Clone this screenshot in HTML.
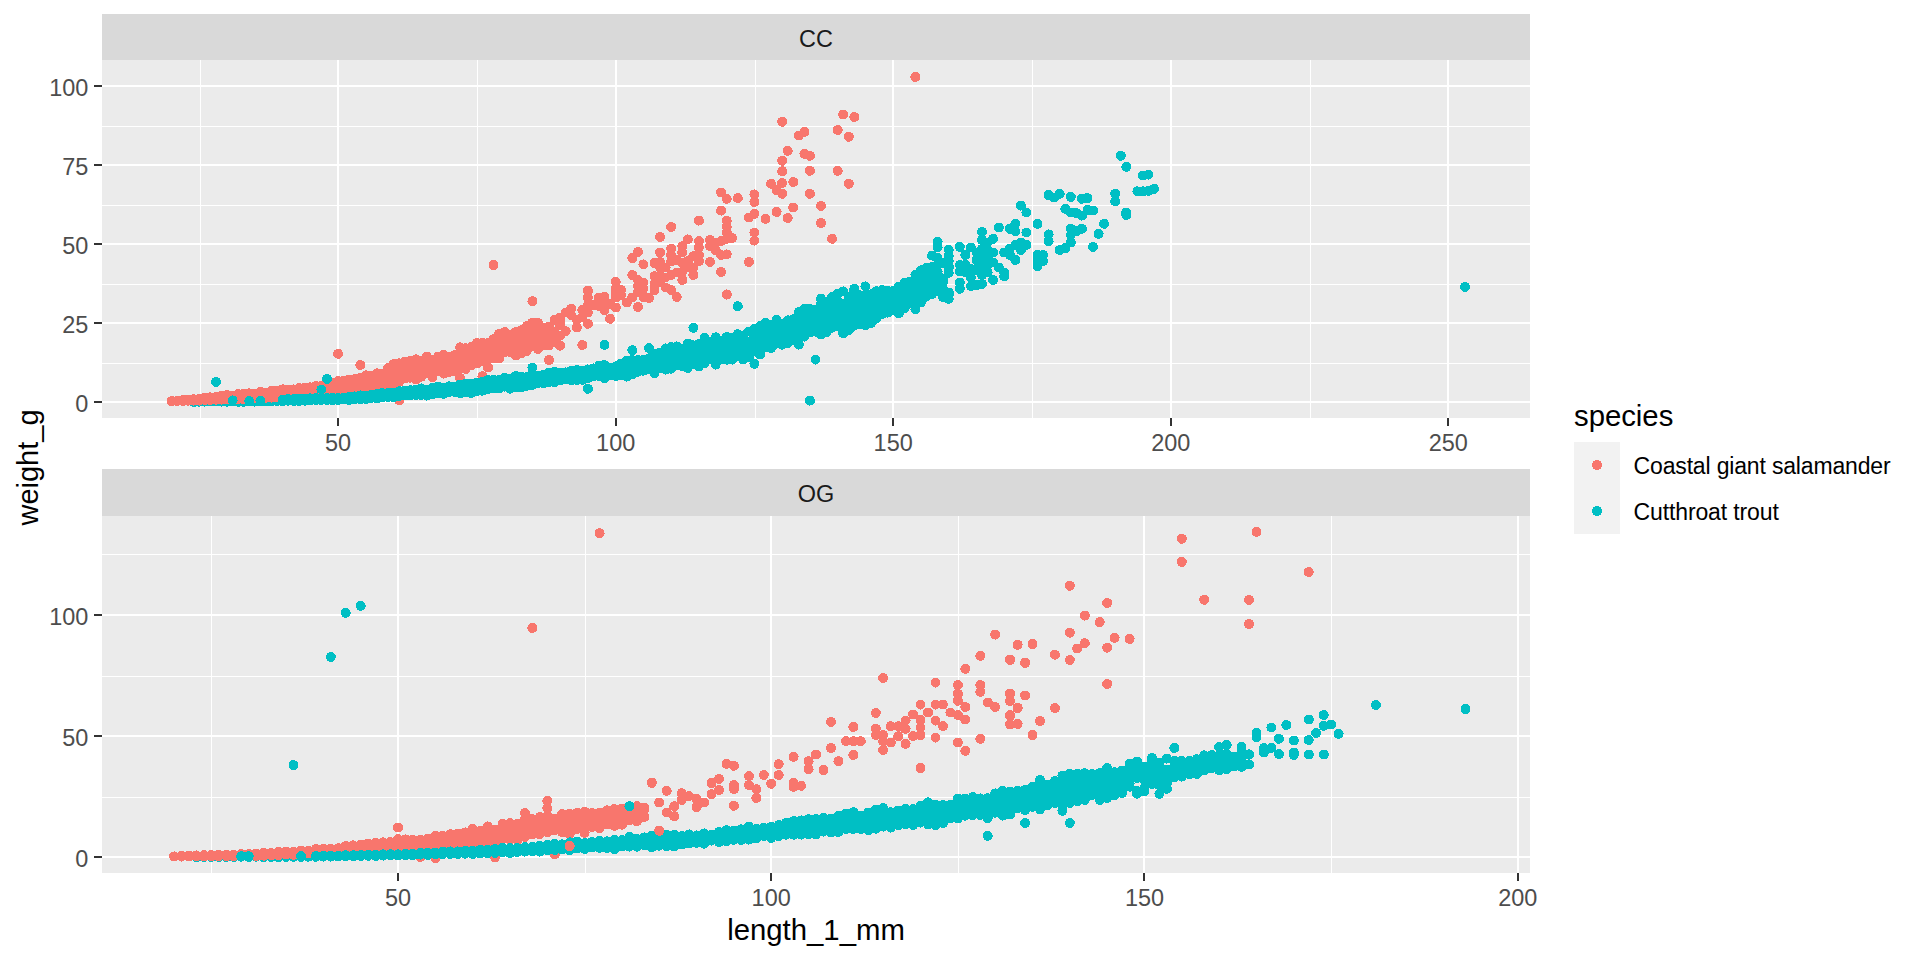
<!DOCTYPE html><html><head><meta charset="utf-8"><title>plot</title><style>
html,body{margin:0;padding:0;background:#fff}svg{display:block}text{font-family:"Liberation Sans",Arial,sans-serif}
.ax{font-size:23.47px;fill:#4D4D4D}.st{font-size:23.47px;fill:#1A1A1A}.ti{font-size:29.33px;fill:#000}.lg{font-size:23px;fill:#000}
.mj{stroke:#fff;stroke-width:2;fill:none}.mn{stroke:#fff;stroke-width:1;fill:none}.tk{stroke:#333;stroke-width:2;fill:none}
.s{stroke:#F8766D}.t{stroke:#00BFC4}.p{fill:none;stroke-width:10;stroke-linecap:round;stroke-linejoin:round}
</style></head><body>
<svg width="1920" height="960" viewBox="0 0 1920 960" shape-rendering="crispEdges">
<rect width="1920" height="960" fill="#fff"/>
<rect x="102" y="14" width="1428" height="46" fill="#D9D9D9"/>
<rect x="102" y="60" width="1428" height="358" fill="#EBEBEB"/>
<clipPath id="c1"><rect x="102" y="60" width="1428" height="358"/></clipPath>
<path class="mn" d="M200.5 60V418M477.5 60V418M755.5 60V418M1032.5 60V418M1310.5 60V418M102 363.5H1530M102 284.5H1530M102 205.5H1530M102 126.5H1530"/>
<path class="mj" d="M338 60V418M616 60V418M893 60V418M1171 60V418M1448 60V418M102 402H1530M102 323H1530M102 244H1530M102 165H1530M102 86H1530"/>
<path class="tk" d="M338 418v8M616 418v8M893 418v8M1171 418v8M1448 418v8M102 402h-8M102 323h-8M102 244h-8M102 165h-8M102 86h-8"/>
<text class="ax" text-anchor="middle" x="338.1" y="450.6">50</text>
<text class="ax" text-anchor="middle" x="615.7" y="450.6">100</text>
<text class="ax" text-anchor="middle" x="893.2" y="450.6">150</text>
<text class="ax" text-anchor="middle" x="1170.8" y="450.6">200</text>
<text class="ax" text-anchor="middle" x="1448.3" y="450.6">250</text>
<text class="ax" text-anchor="end" x="88.4" y="411.6">0</text>
<text class="ax" text-anchor="end" x="88.4" y="332.6">25</text>
<text class="ax" text-anchor="end" x="88.4" y="253.6">50</text>
<text class="ax" text-anchor="end" x="88.4" y="174.6">75</text>
<text class="ax" text-anchor="end" x="88.4" y="95.6">100</text>
<text class="st" text-anchor="middle" x="816" y="46.6">CC</text>
<g clip-path="url(#c1)">
<path class="p t" d="M193.8 401.9h.01M199.3 401.7h.01M204.9 401.6h.01M210.4 401.4h.01M216.0 401.5h.01M221.5 401.5h.01M227.1 401.7h.01M227.1 400.9h.01M232.6 401.2h.01M238.2 401.8h.01M238.2 400.9h.01M243.7 401.8h.01M243.7 400.7h.01M249.3 401.4h.01M249.3 400.4h.01M254.8 401.6h.01M254.8 400.2h.01M254.8 401.4h.01M260.4 401.3h.01M260.4 400.0h.01M265.9 401.4h.01M265.9 400.1h.01M265.9 400.3h.01M271.5 401.4h.01M271.5 399.5h.01M271.5 400.0h.01M277.0 401.1h.01M277.0 399.4h.01M277.0 401.0h.01"/>
<path class="p s" d="M171.6 401.1h.01M177.1 401.0h.01M182.7 401.0h.01M182.7 400.1h.01M188.2 400.7h.01M188.2 399.5h.01M193.8 400.6h.01M193.8 399.2h.01M193.8 400.4h.01M199.3 400.6h.01M199.3 398.9h.01M199.3 400.4h.01M204.9 400.0h.01M204.9 397.7h.01M204.9 399.0h.01M204.9 399.3h.01M210.4 399.9h.01M210.4 397.3h.01M210.4 398.7h.01M210.4 397.5h.01M216.0 399.7h.01M216.0 396.8h.01M216.0 397.6h.01M216.0 399.0h.01M221.5 399.5h.01M221.5 395.7h.01M221.5 398.7h.01M221.5 396.5h.01M227.1 399.4h.01M227.1 395.1h.01M227.1 395.4h.01M227.1 398.2h.01M227.1 398.7h.01M232.6 399.8h.01M232.6 395.6h.01M232.6 398.1h.01M232.6 397.5h.01M232.6 397.4h.01M232.6 396.5h.01M238.2 399.1h.01M238.2 394.0h.01M238.2 397.1h.01M238.2 395.9h.01M238.2 397.8h.01M238.2 397.6h.01M243.7 399.4h.01M243.7 393.5h.01M243.7 397.4h.01M243.7 396.5h.01M243.7 396.7h.01M243.7 397.1h.01M249.3 398.3h.01M249.3 393.3h.01M249.3 397.4h.01M249.3 395.5h.01M249.3 396.1h.01M249.3 397.0h.01M254.8 398.3h.01M254.8 393.6h.01M254.8 394.6h.01M254.8 398.3h.01M254.8 395.8h.01M254.8 395.5h.01M260.4 398.6h.01M260.4 392.0h.01M260.4 396.0h.01M260.4 393.4h.01M260.4 397.6h.01M260.4 394.4h.01M260.4 395.8h.01M265.9 397.8h.01M265.9 392.6h.01M265.9 394.2h.01M265.9 397.3h.01M265.9 395.5h.01M265.9 395.9h.01M265.9 393.2h.01M271.5 397.5h.01M271.5 390.6h.01M271.5 393.6h.01M271.5 394.4h.01M271.5 393.5h.01M271.5 395.4h.01M271.5 397.5h.01M277.0 397.5h.01M277.0 390.7h.01M277.0 395.7h.01M277.0 392.7h.01M277.0 395.5h.01M277.0 395.5h.01M277.0 396.3h.01M277.0 392.2h.01M282.6 397.1h.01M282.6 389.3h.01M282.6 391.5h.01M282.6 389.3h.01M282.6 397.1h.01M282.6 393.1h.01M282.6 392.1h.01M282.6 396.3h.01M288.1 396.2h.01M288.1 389.5h.01M288.1 394.0h.01M288.1 392.3h.01M288.1 394.0h.01M288.1 392.0h.01M288.1 392.8h.01M288.1 393.7h.01M293.7 396.3h.01M293.7 389.4h.01M293.7 391.5h.01M293.7 394.2h.01M293.7 393.6h.01M293.7 390.1h.01M293.7 391.7h.01M293.7 394.5h.01M293.7 392.9h.01M299.2 395.6h.01M299.2 388.0h.01M299.2 389.6h.01M299.2 390.9h.01M299.2 392.4h.01M299.2 395.0h.01M299.2 393.1h.01M299.2 392.0h.01M304.8 395.0h.01M304.8 387.7h.01M304.8 391.3h.01M304.8 392.9h.01M304.8 395.0h.01M304.8 393.7h.01M304.8 394.3h.01M304.8 391.8h.01M304.8 390.9h.01M310.3 394.8h.01M310.3 387.3h.01M310.3 393.4h.01M310.3 387.3h.01M310.3 390.7h.01M310.3 391.7h.01M310.3 391.7h.01M310.3 393.8h.01M310.3 390.0h.01M315.9 395.9h.01M315.9 385.9h.01M315.9 388.9h.01M315.9 388.0h.01M315.9 391.8h.01M315.9 392.2h.01M315.9 391.2h.01M315.9 394.2h.01M315.9 391.4h.01M321.4 394.2h.01M321.4 385.5h.01M321.4 394.1h.01M321.4 389.9h.01M321.4 386.9h.01M321.4 394.0h.01M321.4 391.6h.01M321.4 389.9h.01M321.4 392.9h.01M327.0 395.4h.01M327.0 381.9h.01M327.0 387.8h.01M327.0 387.4h.01M327.0 393.1h.01M327.0 388.7h.01M327.0 385.2h.01M327.0 389.4h.01M327.0 387.3h.01M332.5 394.9h.01M332.5 382.7h.01M332.5 387.8h.01M332.5 392.0h.01M332.5 387.3h.01M332.5 386.3h.01M332.5 386.5h.01M332.5 390.9h.01M332.5 387.5h.01M332.5 384.7h.01M338.1 392.2h.01M338.1 381.0h.01M338.1 386.8h.01M338.1 384.8h.01M338.1 387.5h.01M338.1 383.7h.01M338.1 386.9h.01M338.1 388.2h.01M338.1 386.7h.01M338.1 386.9h.01M343.7 393.7h.01M343.7 380.8h.01M343.7 389.4h.01M343.7 386.2h.01M343.7 385.8h.01M343.7 387.0h.01M343.7 380.8h.01M343.7 383.7h.01M343.7 387.6h.01M343.7 385.0h.01M343.7 383.0h.01M349.2 393.4h.01M349.2 379.6h.01M349.2 386.4h.01M349.2 379.6h.01M349.2 392.9h.01M349.2 381.2h.01M349.2 387.1h.01M349.2 383.3h.01M349.2 387.5h.01M349.2 385.9h.01M354.8 390.2h.01M354.8 379.2h.01M354.8 384.9h.01M354.8 385.8h.01M354.8 385.3h.01M354.8 386.1h.01M354.8 385.0h.01M354.8 380.9h.01M354.8 387.9h.01M354.8 389.2h.01M360.3 391.3h.01M360.3 377.6h.01M360.3 379.8h.01M360.3 380.1h.01M360.3 386.9h.01M360.3 384.0h.01M360.3 391.3h.01M360.3 386.5h.01M360.3 382.3h.01M360.3 389.7h.01M360.3 391.3h.01M365.9 388.0h.01M365.9 375.3h.01M365.9 375.3h.01M365.9 377.0h.01M365.9 386.4h.01M365.9 388.0h.01M365.9 381.1h.01M365.9 378.2h.01M365.9 386.7h.01M365.9 383.2h.01M365.9 382.9h.01M371.4 387.2h.01M371.4 375.5h.01M371.4 378.1h.01M371.4 381.0h.01M371.4 379.0h.01M371.4 375.5h.01M371.4 384.2h.01M371.4 384.2h.01M371.4 379.7h.01M371.4 375.8h.01M371.4 380.7h.01M377.0 387.6h.01M377.0 373.4h.01M377.0 382.5h.01M377.0 377.8h.01M377.0 378.8h.01M377.0 378.8h.01M377.0 375.3h.01M377.0 376.4h.01M377.0 382.3h.01M377.0 377.0h.01M377.0 386.2h.01M377.0 376.6h.01M382.5 385.6h.01M382.5 373.6h.01M382.5 379.1h.01M382.5 376.8h.01M382.5 380.7h.01M382.5 377.3h.01M382.5 380.1h.01M382.5 380.6h.01M382.5 378.9h.01M382.5 379.4h.01M382.5 384.5h.01M382.5 373.6h.01M388.1 386.9h.01M388.1 368.1h.01M388.1 377.1h.01M388.1 376.0h.01M388.1 373.6h.01M388.1 381.1h.01M388.1 386.9h.01M388.1 377.4h.01M388.1 375.8h.01M388.1 372.2h.01M388.1 380.5h.01M388.1 378.2h.01M393.6 386.9h.01M393.6 364.1h.01M393.6 373.4h.01M393.6 380.5h.01M393.6 365.8h.01M393.6 380.1h.01M393.6 374.6h.01M393.6 376.7h.01M393.6 378.9h.01M393.6 371.8h.01M393.6 369.0h.01M393.6 366.5h.01M399.2 381.9h.01M399.2 363.3h.01M399.2 378.7h.01M399.2 371.8h.01M399.2 369.6h.01M399.2 369.4h.01M399.2 377.4h.01M399.2 379.0h.01M399.2 364.4h.01M399.2 374.4h.01M399.2 379.7h.01M399.2 377.8h.01M404.7 378.5h.01M404.7 361.8h.01M404.7 365.1h.01M404.7 364.7h.01M404.7 368.8h.01M404.7 367.8h.01M404.7 365.7h.01M404.7 371.3h.01M404.7 368.5h.01M404.7 371.4h.01M404.7 372.4h.01M404.7 367.1h.01M410.3 377.7h.01M410.3 360.6h.01M410.3 369.2h.01M410.3 371.1h.01M410.3 364.1h.01M410.3 368.5h.01M410.3 368.5h.01M410.3 361.8h.01M410.3 377.7h.01M410.3 373.7h.01M410.3 377.7h.01M410.3 368.9h.01M415.8 379.5h.01M415.8 359.3h.01M415.8 373.5h.01M415.8 360.3h.01M415.8 367.6h.01M415.8 370.5h.01M415.8 374.8h.01M415.8 367.0h.01M415.8 371.7h.01M415.8 371.5h.01M415.8 368.2h.01M415.8 368.1h.01M421.4 376.7h.01M421.4 361.0h.01M421.4 373.1h.01M421.4 367.5h.01M421.4 368.3h.01M421.4 368.5h.01M421.4 370.4h.01M421.4 368.6h.01M421.4 371.0h.01M421.4 375.3h.01M421.4 365.9h.01M421.4 372.8h.01M426.9 372.9h.01M426.9 356.6h.01M426.9 356.6h.01M426.9 370.4h.01M426.9 367.7h.01M426.9 364.3h.01M426.9 359.1h.01M426.9 365.7h.01M426.9 370.5h.01M426.9 360.0h.01M426.9 368.5h.01M426.9 365.5h.01M432.5 377.2h.01M432.5 359.8h.01M432.5 366.3h.01M432.5 369.3h.01M432.5 367.2h.01M432.5 372.6h.01M432.5 369.0h.01M432.5 373.2h.01M432.5 375.2h.01M432.5 360.8h.01M432.5 366.5h.01M432.5 364.5h.01M438.0 370.9h.01M438.0 356.7h.01M438.0 368.8h.01M438.0 361.8h.01M438.0 366.3h.01M438.0 364.5h.01M438.0 369.1h.01M438.0 360.2h.01M438.0 361.1h.01M438.0 362.4h.01M438.0 367.0h.01M438.0 365.7h.01M443.6 373.6h.01M443.6 354.6h.01M443.6 363.4h.01M443.6 369.4h.01M443.6 356.9h.01M443.6 373.5h.01M443.6 363.0h.01M443.6 364.5h.01M443.6 371.7h.01M443.6 362.5h.01M443.6 361.6h.01M443.6 363.8h.01M449.1 371.8h.01M449.1 357.3h.01M449.1 363.7h.01M449.1 358.2h.01M449.1 361.4h.01M449.1 361.7h.01M449.1 359.5h.01M449.1 366.9h.01M449.1 366.4h.01M449.1 362.6h.01M449.1 362.6h.01M449.1 359.0h.01M454.7 371.4h.01M454.7 355.0h.01M454.7 364.3h.01M454.7 364.7h.01M454.7 365.0h.01M454.7 359.4h.01M454.7 365.1h.01M454.7 364.6h.01M454.7 362.5h.01M454.7 365.2h.01M454.7 364.1h.01M454.7 371.4h.01M460.2 367.8h.01M460.2 347.3h.01M460.2 355.5h.01M460.2 366.9h.01M460.2 347.3h.01M460.2 356.5h.01M460.2 356.4h.01M460.2 366.4h.01M460.2 354.0h.01M460.2 355.0h.01M460.2 358.9h.01M460.2 355.8h.01M465.8 369.0h.01M465.8 348.2h.01M465.8 351.0h.01M465.8 356.5h.01M465.8 358.8h.01M465.8 348.2h.01M465.8 357.0h.01M465.8 358.8h.01M465.8 356.5h.01M465.8 359.9h.01M465.8 356.7h.01M465.8 357.1h.01M471.3 365.1h.01M471.3 346.8h.01M471.3 353.6h.01M471.3 352.6h.01M471.3 351.7h.01M471.3 354.2h.01M471.3 353.0h.01M471.3 357.1h.01M471.3 356.5h.01M471.3 350.6h.01M471.3 364.4h.01M471.3 353.7h.01M476.9 363.4h.01M476.9 343.0h.01M476.9 361.6h.01M476.9 350.8h.01M476.9 344.4h.01M476.9 345.1h.01M476.9 357.4h.01M476.9 359.4h.01M476.9 360.1h.01M476.9 349.2h.01M476.9 354.8h.01M476.9 352.8h.01M482.4 361.2h.01M482.4 342.5h.01M482.4 351.0h.01M482.4 359.1h.01M482.4 344.8h.01M482.4 361.2h.01M482.4 345.8h.01M482.4 354.4h.01M482.4 352.5h.01M482.4 354.1h.01M482.4 353.4h.01M482.4 351.7h.01M488.0 359.5h.01M488.0 342.8h.01M488.0 353.4h.01M488.0 345.4h.01M488.0 351.7h.01M488.0 354.0h.01M488.0 349.2h.01M488.0 347.3h.01M488.0 354.9h.01M488.0 352.2h.01M488.0 345.1h.01M488.0 355.2h.01M493.5 358.3h.01M493.5 339.3h.01M493.5 358.3h.01M493.5 356.5h.01M493.5 346.8h.01M493.5 345.5h.01M493.5 345.8h.01M493.5 346.8h.01M493.5 354.5h.01M493.5 345.4h.01M493.5 343.1h.01M493.5 351.9h.01M499.1 358.4h.01M499.1 333.9h.01M499.1 343.7h.01M499.1 355.0h.01M499.1 336.9h.01M499.1 351.1h.01M499.1 346.5h.01M499.1 348.9h.01M499.1 343.1h.01M499.1 343.2h.01M499.1 345.8h.01M499.1 337.2h.01M504.6 352.1h.01M504.6 332.1h.01M504.6 343.3h.01M504.6 343.4h.01M504.6 346.3h.01M504.6 346.2h.01M504.6 338.9h.01M504.6 336.7h.01M504.6 332.4h.01M504.6 336.2h.01M504.6 345.4h.01M504.6 340.6h.01M510.2 352.1h.01M510.2 334.7h.01M510.2 345.9h.01M510.2 343.7h.01M510.2 344.3h.01M510.2 346.0h.01M510.2 337.5h.01M510.2 334.7h.01M510.2 339.7h.01M510.2 338.6h.01M510.2 342.5h.01M515.7 355.5h.01M515.7 332.0h.01M515.7 341.2h.01M515.7 344.2h.01M515.7 340.0h.01M515.7 343.8h.01M515.7 340.0h.01M515.7 351.0h.01M515.7 344.1h.01M515.7 335.4h.01M515.7 349.6h.01M521.3 353.4h.01M521.3 330.3h.01M521.3 335.4h.01M521.3 353.4h.01M521.3 340.8h.01M521.3 349.0h.01M521.3 349.7h.01M521.3 339.3h.01M521.3 334.8h.01M521.3 350.3h.01M521.3 348.0h.01M526.8 351.0h.01M526.8 326.2h.01M526.8 326.2h.01M526.8 334.7h.01M526.8 340.6h.01M526.8 341.6h.01M526.8 326.2h.01M526.8 326.2h.01M526.8 341.4h.01M526.8 336.2h.01M532.4 346.3h.01M532.4 322.5h.01M532.4 326.2h.01M532.4 338.4h.01M532.4 336.8h.01M532.4 342.3h.01M532.4 338.8h.01M532.4 330.1h.01M532.4 339.2h.01M532.4 342.1h.01M537.9 349.0h.01M537.9 322.8h.01M537.9 339.5h.01M537.9 334.8h.01M537.9 332.9h.01M537.9 335.0h.01M537.9 347.7h.01M537.9 333.8h.01M537.9 337.2h.01M543.5 345.0h.01M543.5 327.7h.01M543.5 338.5h.01M543.5 343.7h.01M543.5 330.5h.01M543.5 338.6h.01M543.5 334.7h.01M543.5 337.0h.01M549.0 345.3h.01M549.0 326.5h.01M549.0 332.5h.01M549.0 343.5h.01M549.0 343.8h.01M549.0 334.9h.01M549.0 340.4h.01M554.6 342.5h.01M554.6 319.7h.01M554.6 337.1h.01M554.6 337.7h.01M554.6 336.2h.01M554.6 332.3h.01M560.1 345.7h.01M560.1 317.6h.01M560.1 335.7h.01M560.1 320.7h.01M560.1 325.3h.01M338.1 353.8h.01M493.5 265.0h.01M532.4 301.2h.01M549.0 360.0h.01M460.2 378.0h.01M482.4 376.2h.01M488.0 367.5h.01M360.3 365.0h.01M915.4 77.0h.01M843.2 114.5h.01M854.3 117.0h.01M782.2 121.8h.01M837.7 130.0h.01M804.4 132.0h.01M798.8 135.5h.01M848.8 136.8h.01M787.7 150.8h.01M804.4 153.8h.01M809.9 155.8h.01M782.2 160.8h.01M782.2 171.2h.01M809.9 170.8h.01M837.7 170.8h.01M848.8 183.8h.01M809.9 193.8h.01M821.0 205.8h.01M793.3 207.5h.01M787.7 218.0h.01M821.0 223.0h.01M832.1 238.8h.01M793.3 182.0h.01M782.2 183.0h.01M782.2 193.8h.01M832.1 238.8h.01M821.0 223.1h.01M587.9 290.6h.01M587.9 297.5h.01M599.0 297.5h.01M604.5 296.9h.01M615.7 281.9h.01M615.7 288.1h.01M615.7 292.5h.01M615.7 297.5h.01M621.2 290.0h.01M621.2 295.0h.01M632.3 258.1h.01M632.3 275.0h.01M632.3 297.5h.01M637.9 251.9h.01M637.9 280.0h.01M637.9 286.2h.01M637.9 292.5h.01M643.4 264.4h.01M643.4 282.5h.01M643.4 288.8h.01M643.4 296.9h.01M649.0 298.1h.01M654.5 263.1h.01M654.5 276.2h.01M654.5 283.8h.01M654.5 290.0h.01M660.1 236.9h.01M660.1 252.5h.01M660.1 261.9h.01M660.1 267.5h.01M660.1 275.0h.01M660.1 281.9h.01M665.6 267.5h.01M665.6 277.5h.01M665.6 287.5h.01M671.2 226.9h.01M671.2 248.8h.01M671.2 255.0h.01M671.2 261.2h.01M671.2 275.0h.01M671.2 290.0h.01M676.7 260.0h.01M676.7 272.5h.01M676.7 296.9h.01M682.3 246.2h.01M682.3 252.5h.01M682.3 262.5h.01M682.3 271.9h.01M682.3 280.0h.01M687.8 239.4h.01M687.8 261.2h.01M687.8 267.5h.01M693.4 256.2h.01M693.4 267.5h.01M693.4 275.0h.01M698.9 220.6h.01M698.9 241.2h.01M698.9 247.5h.01M698.9 255.0h.01M698.9 261.2h.01M710.0 240.0h.01M710.0 246.2h.01M710.0 261.9h.01M715.6 242.5h.01M715.6 250.0h.01M721.1 192.5h.01M721.1 210.6h.01M721.1 241.2h.01M721.1 255.0h.01M721.1 271.9h.01M726.7 198.8h.01M726.7 220.6h.01M726.7 226.9h.01M726.7 232.5h.01M726.7 238.8h.01M726.7 254.4h.01M726.7 294.4h.01M732.2 238.1h.01M737.8 198.1h.01M748.9 217.5h.01M748.9 261.9h.01M754.4 194.4h.01M754.4 201.9h.01M754.4 213.8h.01M754.4 232.5h.01M754.4 240.6h.01M765.5 218.8h.01M771.1 183.8h.01M776.6 211.9h.01M776.6 190.0h.01M565.7 312.5h.01M565.7 331.2h.01M571.2 308.8h.01M571.2 315.0h.01M576.8 320.0h.01M576.8 327.5h.01M582.3 310.0h.01M582.3 317.5h.01M582.3 345.0h.01M587.9 305.0h.01M587.9 312.5h.01M587.9 323.8h.01M593.4 305.0h.01M599.0 306.2h.01M604.5 303.8h.01M604.5 310.0h.01M610.1 303.8h.01M610.1 318.8h.01M615.7 307.5h.01M626.8 302.5h.01M637.9 306.9h.01M726.7 294.6h.01M687.8 345.6h.01M399.2 400.4h.01"/>
<path class="p t" d="M282.6 401.2h.01M282.6 399.5h.01M282.6 400.5h.01M288.1 400.7h.01M288.1 398.9h.01M288.1 400.2h.01M288.1 399.5h.01M293.7 401.0h.01M293.7 399.1h.01M293.7 399.6h.01M299.2 400.9h.01M299.2 398.6h.01M299.2 399.1h.01M299.2 398.8h.01M304.8 400.7h.01M304.8 398.5h.01M304.8 399.6h.01M310.3 400.1h.01M310.3 398.3h.01M310.3 398.9h.01M315.9 400.1h.01M315.9 397.9h.01M315.9 399.7h.01M315.9 398.9h.01M321.4 399.9h.01M321.4 398.2h.01M321.4 399.3h.01M321.4 398.8h.01M327.0 399.9h.01M327.0 398.2h.01M327.0 398.9h.01M327.0 399.1h.01M332.5 400.0h.01M332.5 397.9h.01M332.5 398.8h.01M332.5 399.0h.01M332.5 399.1h.01M338.1 400.2h.01M338.1 397.9h.01M338.1 399.2h.01M338.1 399.9h.01M338.1 398.3h.01M343.7 399.5h.01M343.7 397.5h.01M343.7 398.7h.01M343.7 399.2h.01M343.7 397.8h.01M349.2 399.9h.01M349.2 396.8h.01M349.2 397.9h.01M349.2 399.0h.01M349.2 398.6h.01M354.8 399.2h.01M354.8 396.4h.01M354.8 397.8h.01M354.8 397.1h.01M354.8 398.1h.01M360.3 399.4h.01M360.3 395.4h.01M360.3 396.6h.01M360.3 398.0h.01M360.3 396.8h.01M365.9 399.1h.01M365.9 395.6h.01M365.9 396.5h.01M365.9 397.5h.01M365.9 398.0h.01M371.4 397.8h.01M371.4 394.9h.01M371.4 396.8h.01M371.4 396.4h.01M371.4 396.2h.01M371.4 396.6h.01M377.0 398.4h.01M377.0 393.8h.01M377.0 394.9h.01M377.0 395.4h.01M377.0 396.8h.01M377.0 396.9h.01M382.5 397.3h.01M382.5 393.1h.01M382.5 393.1h.01M382.5 396.1h.01M382.5 394.8h.01M382.5 394.7h.01M388.1 396.9h.01M388.1 392.7h.01M388.1 394.6h.01M388.1 396.3h.01M388.1 395.0h.01M388.1 395.6h.01M393.6 397.3h.01M393.6 392.6h.01M393.6 394.0h.01M393.6 394.6h.01M393.6 394.6h.01M393.6 394.8h.01M399.2 396.1h.01M399.2 391.2h.01M399.2 393.2h.01M399.2 393.6h.01M399.2 392.9h.01M399.2 395.3h.01M404.7 395.5h.01M404.7 390.7h.01M404.7 393.3h.01M404.7 393.8h.01M404.7 392.8h.01M404.7 393.8h.01M410.3 395.1h.01M410.3 390.2h.01M410.3 392.6h.01M410.3 394.1h.01M410.3 392.6h.01M410.3 394.5h.01M415.8 395.1h.01M415.8 389.5h.01M415.8 391.6h.01M415.8 394.3h.01M415.8 391.9h.01M415.8 390.9h.01M415.8 391.7h.01M421.4 395.0h.01M421.4 388.4h.01M421.4 391.4h.01M421.4 391.1h.01M421.4 391.9h.01M421.4 390.6h.01M421.4 393.2h.01M426.9 395.6h.01M426.9 389.6h.01M426.9 392.1h.01M426.9 390.1h.01M426.9 391.2h.01M426.9 393.4h.01M432.5 394.2h.01M432.5 387.6h.01M432.5 390.7h.01M432.5 394.2h.01M432.5 390.6h.01M432.5 392.6h.01M432.5 392.0h.01M438.0 392.8h.01M438.0 386.6h.01M438.0 388.4h.01M438.0 387.1h.01M438.0 389.8h.01M438.0 388.0h.01M438.0 390.1h.01M443.6 393.8h.01M443.6 387.6h.01M443.6 391.4h.01M443.6 390.2h.01M443.6 389.8h.01M443.6 392.0h.01M443.6 393.0h.01M449.1 392.2h.01M449.1 386.3h.01M449.1 387.8h.01M449.1 386.7h.01M449.1 389.8h.01M449.1 388.2h.01M449.1 387.8h.01M454.7 392.0h.01M454.7 386.8h.01M454.7 388.5h.01M454.7 386.8h.01M454.7 388.4h.01M454.7 390.2h.01M454.7 388.6h.01M460.2 393.2h.01M460.2 384.6h.01M460.2 385.6h.01M460.2 391.6h.01M460.2 387.8h.01M460.2 388.9h.01M460.2 391.5h.01M460.2 386.3h.01M465.8 392.0h.01M465.8 383.6h.01M465.8 388.7h.01M465.8 391.8h.01M465.8 389.2h.01M465.8 387.2h.01M465.8 386.4h.01M465.8 387.4h.01M471.3 392.9h.01M471.3 383.5h.01M471.3 385.4h.01M471.3 387.8h.01M471.3 387.5h.01M471.3 386.9h.01M471.3 390.7h.01M471.3 389.8h.01M476.9 391.1h.01M476.9 382.8h.01M476.9 386.3h.01M476.9 388.0h.01M476.9 386.4h.01M476.9 388.3h.01M476.9 386.4h.01M476.9 390.2h.01M482.4 390.7h.01M482.4 381.8h.01M482.4 386.8h.01M482.4 387.1h.01M482.4 385.9h.01M482.4 388.8h.01M482.4 385.4h.01M482.4 381.8h.01M488.0 389.0h.01M488.0 379.8h.01M488.0 384.0h.01M488.0 388.6h.01M488.0 387.0h.01M488.0 383.3h.01M488.0 384.5h.01M488.0 380.6h.01M493.5 388.0h.01M493.5 379.9h.01M493.5 385.5h.01M493.5 385.8h.01M493.5 384.0h.01M493.5 384.1h.01M493.5 382.3h.01M493.5 383.7h.01M499.1 388.4h.01M499.1 379.8h.01M499.1 388.4h.01M499.1 384.4h.01M499.1 386.0h.01M499.1 382.8h.01M499.1 384.5h.01M499.1 380.0h.01M499.1 382.1h.01M504.6 386.6h.01M504.6 377.6h.01M504.6 381.3h.01M504.6 379.2h.01M504.6 380.9h.01M504.6 382.9h.01M504.6 379.2h.01M504.6 381.7h.01M510.2 388.7h.01M510.2 378.7h.01M510.2 385.3h.01M510.2 388.7h.01M510.2 381.2h.01M510.2 382.3h.01M510.2 384.2h.01M510.2 381.1h.01M510.2 382.6h.01M515.7 387.5h.01M515.7 376.0h.01M515.7 380.2h.01M515.7 377.1h.01M515.7 376.4h.01M515.7 377.6h.01M515.7 385.1h.01M515.7 387.5h.01M515.7 380.1h.01M521.3 387.3h.01M521.3 376.5h.01M521.3 381.3h.01M521.3 386.0h.01M521.3 380.7h.01M521.3 383.1h.01M521.3 381.0h.01M521.3 380.7h.01M521.3 382.2h.01M526.8 385.8h.01M526.8 377.0h.01M526.8 380.3h.01M526.8 382.6h.01M526.8 382.7h.01M526.8 377.5h.01M526.8 381.6h.01M526.8 379.2h.01M526.8 380.5h.01M532.4 384.9h.01M532.4 374.3h.01M532.4 378.9h.01M532.4 378.0h.01M532.4 382.9h.01M532.4 381.1h.01M532.4 379.8h.01M532.4 375.3h.01M532.4 384.9h.01M537.9 383.1h.01M537.9 376.1h.01M537.9 380.5h.01M537.9 379.0h.01M537.9 376.9h.01M537.9 379.0h.01M537.9 378.8h.01M537.9 379.0h.01M537.9 380.9h.01M543.5 383.0h.01M543.5 374.9h.01M543.5 379.0h.01M543.5 379.4h.01M543.5 377.4h.01M543.5 379.0h.01M543.5 380.0h.01M543.5 376.0h.01M543.5 376.9h.01M543.5 376.4h.01M549.0 382.2h.01M549.0 372.5h.01M549.0 378.0h.01M549.0 375.1h.01M549.0 377.1h.01M549.0 380.9h.01M549.0 377.4h.01M549.0 380.7h.01M549.0 376.9h.01M549.0 380.2h.01M554.6 382.4h.01M554.6 371.6h.01M554.6 381.5h.01M554.6 375.0h.01M554.6 371.6h.01M554.6 381.0h.01M554.6 372.1h.01M554.6 378.9h.01M554.6 378.4h.01M554.6 377.5h.01M560.1 380.4h.01M560.1 372.5h.01M560.1 377.9h.01M560.1 377.0h.01M560.1 379.4h.01M560.1 377.1h.01M560.1 374.6h.01M560.1 379.8h.01M560.1 377.3h.01M560.1 376.1h.01M565.7 378.9h.01M565.7 372.4h.01M565.7 376.8h.01M565.7 374.9h.01M565.7 376.2h.01M565.7 376.1h.01M565.7 373.9h.01M565.7 372.9h.01M565.7 375.2h.01M565.7 375.9h.01M571.2 380.4h.01M571.2 370.8h.01M571.2 378.1h.01M571.2 370.8h.01M571.2 373.9h.01M571.2 375.2h.01M571.2 376.1h.01M571.2 380.4h.01M571.2 373.9h.01M571.2 371.7h.01M576.8 379.9h.01M576.8 370.0h.01M576.8 378.8h.01M576.8 372.6h.01M576.8 371.6h.01M576.8 374.4h.01M576.8 375.1h.01M576.8 373.0h.01M576.8 378.8h.01M576.8 374.7h.01M576.8 372.3h.01M582.3 379.8h.01M582.3 370.5h.01M582.3 379.8h.01M582.3 375.4h.01M582.3 377.4h.01M582.3 374.4h.01M582.3 377.9h.01M582.3 372.7h.01M582.3 376.9h.01M582.3 374.3h.01M582.3 376.5h.01M587.9 378.1h.01M587.9 369.4h.01M587.9 374.6h.01M587.9 376.5h.01M587.9 371.3h.01M587.9 372.2h.01M587.9 374.5h.01M587.9 373.3h.01M587.9 376.0h.01M587.9 376.0h.01M587.9 375.6h.01M587.9 373.0h.01M593.4 376.5h.01M593.4 368.4h.01M593.4 370.9h.01M593.4 372.1h.01M593.4 370.4h.01M593.4 373.0h.01M593.4 372.7h.01M593.4 371.5h.01M593.4 372.5h.01M593.4 370.9h.01M593.4 375.0h.01M593.4 369.6h.01M599.0 375.9h.01M599.0 365.7h.01M599.0 374.3h.01M599.0 369.3h.01M599.0 367.5h.01M599.0 368.1h.01M599.0 368.7h.01M599.0 374.7h.01M599.0 372.8h.01M599.0 372.0h.01M599.0 373.2h.01M599.0 367.9h.01M599.0 370.3h.01M604.5 378.0h.01M604.5 365.1h.01M604.5 374.5h.01M604.5 374.4h.01M604.5 370.0h.01M604.5 370.5h.01M604.5 369.7h.01M604.5 368.1h.01M604.5 375.9h.01M604.5 373.4h.01M604.5 371.1h.01M604.5 375.9h.01M604.5 373.3h.01M610.1 374.9h.01M610.1 367.7h.01M610.1 371.2h.01M610.1 371.7h.01M610.1 369.4h.01M610.1 372.0h.01M610.1 370.7h.01M610.1 368.9h.01M610.1 372.0h.01M610.1 372.4h.01M610.1 371.3h.01M610.1 370.3h.01M610.1 370.5h.01M615.7 376.0h.01M615.7 366.3h.01M615.7 370.0h.01M615.7 375.0h.01M615.7 373.2h.01M615.7 370.8h.01M615.7 373.4h.01M615.7 374.4h.01M615.7 374.1h.01M615.7 373.4h.01M615.7 371.6h.01M615.7 373.6h.01M615.7 370.6h.01M615.7 367.1h.01M621.2 375.3h.01M621.2 363.5h.01M621.2 372.7h.01M621.2 370.2h.01M621.2 372.3h.01M621.2 367.2h.01M621.2 372.8h.01M621.2 365.5h.01M621.2 367.7h.01M621.2 375.3h.01M621.2 367.1h.01M621.2 364.9h.01M621.2 371.7h.01M621.2 366.5h.01M621.2 374.7h.01M626.8 376.6h.01M626.8 360.9h.01M626.8 375.7h.01M626.8 376.6h.01M626.8 367.2h.01M626.8 360.9h.01M626.8 371.1h.01M626.8 365.5h.01M626.8 368.3h.01M626.8 370.0h.01M626.8 366.3h.01M626.8 362.3h.01M626.8 373.6h.01M626.8 366.5h.01M626.8 367.4h.01M632.3 374.2h.01M632.3 360.0h.01M632.3 370.4h.01M632.3 360.9h.01M632.3 366.9h.01M632.3 367.6h.01M632.3 361.7h.01M632.3 366.2h.01M632.3 365.9h.01M632.3 361.7h.01M632.3 362.5h.01M632.3 363.9h.01M632.3 372.0h.01M632.3 372.6h.01M632.3 363.1h.01M637.9 371.7h.01M637.9 360.0h.01M637.9 366.4h.01M637.9 369.6h.01M637.9 361.1h.01M637.9 368.8h.01M637.9 366.2h.01M637.9 366.4h.01M637.9 362.3h.01M637.9 370.0h.01M637.9 365.9h.01M637.9 366.5h.01M637.9 364.3h.01M637.9 364.5h.01M637.9 367.2h.01M643.4 370.7h.01M643.4 359.7h.01M643.4 365.5h.01M643.4 367.0h.01M643.4 365.3h.01M643.4 364.2h.01M643.4 359.7h.01M643.4 366.5h.01M643.4 364.3h.01M643.4 361.1h.01M643.4 370.7h.01M643.4 370.0h.01M643.4 368.5h.01M643.4 365.5h.01M643.4 359.7h.01M649.0 369.4h.01M649.0 358.4h.01M649.0 359.4h.01M649.0 369.4h.01M649.0 369.4h.01M649.0 361.1h.01M649.0 363.4h.01M649.0 367.5h.01M649.0 360.8h.01M649.0 368.2h.01M649.0 360.8h.01M649.0 359.9h.01M649.0 366.0h.01M649.0 367.0h.01M649.0 361.6h.01M649.0 366.9h.01M654.5 373.1h.01M654.5 353.9h.01M654.5 363.1h.01M654.5 365.6h.01M654.5 367.8h.01M654.5 362.4h.01M654.5 372.5h.01M654.5 364.8h.01M654.5 365.4h.01M654.5 360.3h.01M654.5 369.5h.01M654.5 355.3h.01M654.5 365.0h.01M654.5 368.9h.01M654.5 356.9h.01M654.5 355.6h.01M660.1 367.8h.01M660.1 352.6h.01M660.1 362.8h.01M660.1 361.4h.01M660.1 354.3h.01M660.1 358.7h.01M660.1 359.7h.01M660.1 358.9h.01M660.1 360.4h.01M660.1 357.0h.01M660.1 356.9h.01M660.1 361.6h.01M660.1 359.8h.01M660.1 352.6h.01M660.1 358.6h.01M660.1 360.9h.01M665.6 369.6h.01M665.6 348.4h.01M665.6 355.4h.01M665.6 363.7h.01M665.6 361.6h.01M665.6 357.2h.01M665.6 359.6h.01M665.6 363.0h.01M665.6 361.9h.01M665.6 362.1h.01M665.6 352.8h.01M665.6 362.8h.01M665.6 362.0h.01M665.6 348.4h.01M665.6 361.9h.01M665.6 351.1h.01M671.2 368.7h.01M671.2 346.9h.01M671.2 355.3h.01M671.2 354.2h.01M671.2 352.6h.01M671.2 357.4h.01M671.2 351.3h.01M671.2 350.3h.01M671.2 363.5h.01M671.2 350.0h.01M671.2 356.9h.01M671.2 360.9h.01M671.2 359.5h.01M671.2 347.6h.01M671.2 352.5h.01M671.2 367.5h.01M676.7 365.3h.01M676.7 346.4h.01M676.7 358.3h.01M676.7 362.7h.01M676.7 351.8h.01M676.7 360.3h.01M676.7 357.6h.01M676.7 358.7h.01M676.7 359.3h.01M676.7 352.3h.01M676.7 354.0h.01M676.7 359.0h.01M676.7 360.3h.01M676.7 358.1h.01M676.7 351.3h.01M676.7 355.2h.01M676.7 354.7h.01M682.3 366.0h.01M682.3 349.1h.01M682.3 365.3h.01M682.3 350.8h.01M682.3 360.9h.01M682.3 360.0h.01M682.3 351.9h.01M682.3 356.6h.01M682.3 357.4h.01M682.3 360.0h.01M682.3 364.1h.01M682.3 356.8h.01M682.3 352.5h.01M682.3 361.4h.01M682.3 351.8h.01M682.3 362.3h.01M682.3 360.7h.01M687.8 368.0h.01M687.8 343.6h.01M687.8 360.4h.01M687.8 362.1h.01M687.8 367.2h.01M687.8 363.2h.01M687.8 362.4h.01M687.8 364.5h.01M687.8 354.0h.01M687.8 359.9h.01M687.8 368.0h.01M687.8 343.6h.01M687.8 360.9h.01M687.8 363.5h.01M687.8 348.3h.01M687.8 348.7h.01M687.8 362.9h.01M693.4 363.7h.01M693.4 345.3h.01M693.4 355.9h.01M693.4 358.2h.01M693.4 354.6h.01M693.4 349.0h.01M693.4 360.9h.01M693.4 356.3h.01M693.4 360.9h.01M693.4 345.3h.01M693.4 346.1h.01M693.4 350.1h.01M693.4 355.1h.01M693.4 351.5h.01M693.4 363.7h.01M693.4 353.2h.01M693.4 360.7h.01M698.9 366.5h.01M698.9 344.1h.01M698.9 352.1h.01M698.9 351.4h.01M698.9 353.8h.01M698.9 360.6h.01M698.9 351.5h.01M698.9 356.0h.01M698.9 348.7h.01M698.9 360.5h.01M698.9 366.5h.01M698.9 358.0h.01M698.9 344.1h.01M698.9 352.7h.01M698.9 356.4h.01M698.9 350.3h.01M698.9 352.5h.01M704.5 363.2h.01M704.5 338.0h.01M704.5 349.3h.01M704.5 354.6h.01M704.5 357.6h.01M704.5 349.7h.01M704.5 344.5h.01M704.5 346.5h.01M704.5 347.5h.01M704.5 347.4h.01M704.5 338.0h.01M704.5 348.9h.01M704.5 344.0h.01M704.5 338.2h.01M704.5 350.2h.01M704.5 348.9h.01M704.5 344.0h.01M704.5 339.9h.01M710.0 358.7h.01M710.0 342.3h.01M710.0 355.5h.01M710.0 346.0h.01M710.0 351.6h.01M710.0 357.6h.01M710.0 351.1h.01M710.0 357.6h.01M710.0 354.6h.01M710.0 350.4h.01M710.0 354.3h.01M710.0 346.1h.01M710.0 356.5h.01M710.0 349.4h.01M710.0 348.2h.01M710.0 344.5h.01M710.0 346.7h.01M710.0 349.5h.01M715.6 364.6h.01M715.6 337.3h.01M715.6 343.9h.01M715.6 355.4h.01M715.6 347.3h.01M715.6 351.5h.01M715.6 349.2h.01M715.6 352.7h.01M715.6 337.3h.01M715.6 355.3h.01M715.6 349.2h.01M715.6 349.0h.01M715.6 346.7h.01M715.6 347.8h.01M715.6 348.0h.01M715.6 344.2h.01M715.6 361.1h.01M715.6 350.8h.01M715.6 359.3h.01M721.1 359.3h.01M721.1 340.5h.01M721.1 350.1h.01M721.1 343.2h.01M721.1 347.1h.01M721.1 348.4h.01M721.1 343.2h.01M721.1 354.2h.01M721.1 359.3h.01M721.1 351.8h.01M721.1 351.1h.01M721.1 344.0h.01M721.1 340.5h.01M721.1 356.0h.01M721.1 340.5h.01M721.1 342.4h.01M721.1 345.8h.01M721.1 348.1h.01M721.1 340.5h.01M726.7 359.7h.01M726.7 337.0h.01M726.7 356.0h.01M726.7 345.6h.01M726.7 348.9h.01M726.7 346.4h.01M726.7 346.2h.01M726.7 354.3h.01M726.7 340.8h.01M726.7 354.0h.01M726.7 343.2h.01M726.7 357.3h.01M726.7 346.1h.01M726.7 352.9h.01M726.7 348.0h.01M726.7 351.9h.01M726.7 359.7h.01M726.7 354.6h.01M726.7 347.9h.01M732.2 359.6h.01M732.2 337.6h.01M732.2 353.3h.01M732.2 349.7h.01M732.2 352.0h.01M732.2 353.0h.01M732.2 343.8h.01M732.2 343.2h.01M732.2 344.4h.01M732.2 353.7h.01M732.2 348.1h.01M732.2 349.6h.01M732.2 356.4h.01M732.2 343.7h.01M732.2 348.0h.01M732.2 351.2h.01M732.2 340.7h.01M732.2 344.3h.01M732.2 343.8h.01M737.8 355.7h.01M737.8 334.2h.01M737.8 347.0h.01M737.8 339.5h.01M737.8 349.0h.01M737.8 344.7h.01M737.8 342.8h.01M737.8 337.2h.01M737.8 337.9h.01M737.8 340.1h.01M737.8 345.9h.01M737.8 340.0h.01M737.8 342.1h.01M737.8 345.8h.01M737.8 337.6h.01M737.8 342.3h.01M737.8 349.0h.01M737.8 338.1h.01M737.8 346.3h.01M743.3 359.5h.01M743.3 335.4h.01M743.3 353.1h.01M743.3 353.3h.01M743.3 358.9h.01M743.3 335.4h.01M743.3 348.3h.01M743.3 346.0h.01M743.3 340.7h.01M743.3 348.2h.01M743.3 344.3h.01M743.3 355.6h.01M743.3 346.2h.01M743.3 349.9h.01M743.3 344.4h.01M743.3 346.3h.01M743.3 355.8h.01M743.3 358.6h.01M743.3 353.5h.01M748.9 357.0h.01M748.9 331.5h.01M748.9 357.0h.01M748.9 357.0h.01M748.9 348.1h.01M748.9 346.3h.01M748.9 348.0h.01M748.9 341.9h.01M748.9 345.3h.01M748.9 351.7h.01M748.9 349.8h.01M748.9 343.3h.01M748.9 343.7h.01M748.9 344.6h.01M748.9 331.5h.01M748.9 345.9h.01M748.9 343.4h.01M748.9 350.5h.01M748.9 346.5h.01M754.4 351.1h.01M754.4 329.1h.01M754.4 337.9h.01M754.4 339.8h.01M754.4 350.4h.01M754.4 351.1h.01M754.4 329.1h.01M754.4 335.5h.01M754.4 340.4h.01M754.4 349.6h.01M754.4 347.1h.01M754.4 332.7h.01M754.4 351.1h.01M754.4 341.9h.01M754.4 335.3h.01M754.4 339.3h.01M754.4 336.0h.01M754.4 340.8h.01M754.4 329.1h.01M754.4 345.7h.01M760.0 354.6h.01M760.0 326.2h.01M760.0 340.8h.01M760.0 332.9h.01M760.0 344.2h.01M760.0 348.8h.01M760.0 330.4h.01M760.0 329.2h.01M760.0 329.5h.01M760.0 343.5h.01M760.0 348.6h.01M760.0 348.7h.01M760.0 342.0h.01M760.0 336.3h.01M760.0 336.8h.01M760.0 350.6h.01M760.0 339.0h.01M760.0 340.3h.01M760.0 339.8h.01M760.0 340.6h.01M765.5 347.3h.01M765.5 322.5h.01M765.5 333.5h.01M765.5 339.1h.01M765.5 332.4h.01M765.5 335.6h.01M765.5 347.3h.01M765.5 331.9h.01M765.5 336.5h.01M765.5 329.1h.01M765.5 335.9h.01M765.5 335.5h.01M765.5 333.6h.01M765.5 334.9h.01M765.5 337.6h.01M765.5 346.0h.01M765.5 323.5h.01M765.5 344.6h.01M765.5 337.0h.01M765.5 330.8h.01M771.1 348.0h.01M771.1 325.0h.01M771.1 329.3h.01M771.1 334.8h.01M771.1 325.0h.01M771.1 342.3h.01M771.1 335.2h.01M771.1 338.6h.01M771.1 339.6h.01M771.1 334.9h.01M771.1 328.1h.01M771.1 340.6h.01M771.1 340.6h.01M771.1 332.4h.01M771.1 333.4h.01M771.1 325.3h.01M771.1 330.6h.01M771.1 335.2h.01M771.1 338.4h.01M771.1 335.3h.01M776.6 343.6h.01M776.6 319.8h.01M776.6 332.8h.01M776.6 333.1h.01M776.6 334.3h.01M776.6 321.6h.01M776.6 327.6h.01M776.6 326.1h.01M776.6 335.3h.01M776.6 337.8h.01M776.6 333.4h.01M776.6 330.3h.01M776.6 333.8h.01M776.6 332.8h.01M776.6 326.0h.01M776.6 329.9h.01M776.6 337.6h.01M776.6 334.3h.01M776.6 335.6h.01M776.6 330.6h.01M782.2 344.7h.01M782.2 323.6h.01M782.2 334.0h.01M782.2 339.0h.01M782.2 337.4h.01M782.2 333.5h.01M782.2 331.6h.01M782.2 329.8h.01M782.2 334.9h.01M782.2 341.1h.01M782.2 326.7h.01M782.2 332.6h.01M782.2 332.0h.01M782.2 332.6h.01M782.2 339.6h.01M782.2 335.8h.01M782.2 332.8h.01M782.2 328.7h.01M782.2 333.8h.01M787.7 342.9h.01M787.7 320.3h.01M787.7 324.3h.01M787.7 327.6h.01M787.7 320.3h.01M787.7 323.5h.01M787.7 324.0h.01M787.7 326.2h.01M787.7 339.4h.01M787.7 326.8h.01M787.7 328.2h.01M787.7 334.5h.01M787.7 328.3h.01M787.7 329.2h.01M787.7 334.2h.01M787.7 332.3h.01M787.7 333.1h.01M787.7 330.3h.01M787.7 334.0h.01M793.3 340.2h.01M793.3 319.2h.01M793.3 338.6h.01M793.3 332.3h.01M793.3 327.0h.01M793.3 329.6h.01M793.3 330.3h.01M793.3 329.4h.01M793.3 321.5h.01M793.3 335.5h.01M793.3 325.1h.01M793.3 337.7h.01M793.3 332.2h.01M793.3 328.9h.01M793.3 334.2h.01M793.3 328.7h.01M793.3 325.9h.01M793.3 336.0h.01M793.3 330.1h.01M798.8 344.6h.01M798.8 312.0h.01M798.8 334.8h.01M798.8 317.4h.01M798.8 335.4h.01M798.8 314.4h.01M798.8 332.6h.01M798.8 312.5h.01M798.8 323.9h.01M798.8 324.6h.01M798.8 321.7h.01M798.8 320.9h.01M798.8 316.8h.01M798.8 314.1h.01M798.8 331.1h.01M798.8 338.5h.01M798.8 344.6h.01M798.8 331.4h.01M798.8 322.1h.01M804.4 336.6h.01M804.4 308.6h.01M804.4 327.1h.01M804.4 324.6h.01M804.4 319.9h.01M804.4 334.9h.01M804.4 317.5h.01M804.4 332.8h.01M804.4 323.7h.01M804.4 327.0h.01M804.4 325.2h.01M804.4 329.9h.01M804.4 330.7h.01M804.4 324.2h.01M804.4 330.2h.01M804.4 308.6h.01M804.4 325.5h.01M804.4 327.2h.01M804.4 326.5h.01M809.9 332.4h.01M809.9 308.7h.01M809.9 318.7h.01M809.9 329.5h.01M809.9 320.6h.01M809.9 327.8h.01M809.9 320.8h.01M809.9 318.5h.01M809.9 317.7h.01M809.9 318.0h.01M809.9 324.8h.01M809.9 315.4h.01M809.9 323.3h.01M809.9 318.5h.01M809.9 316.4h.01M809.9 322.4h.01M809.9 328.2h.01M809.9 317.0h.01M809.9 327.2h.01M815.5 331.6h.01M815.5 309.6h.01M815.5 321.6h.01M815.5 331.6h.01M815.5 316.6h.01M815.5 309.6h.01M815.5 310.8h.01M815.5 323.8h.01M815.5 320.3h.01M815.5 317.9h.01M815.5 315.8h.01M815.5 320.5h.01M815.5 326.7h.01M815.5 316.5h.01M815.5 317.3h.01M815.5 328.0h.01M815.5 322.7h.01M815.5 319.2h.01M815.5 320.7h.01M821.0 334.4h.01M821.0 298.7h.01M821.0 309.6h.01M821.0 311.9h.01M821.0 317.7h.01M821.0 328.7h.01M821.0 311.2h.01M821.0 304.2h.01M821.0 299.1h.01M821.0 317.0h.01M821.0 317.0h.01M821.0 303.8h.01M821.0 303.9h.01M821.0 313.7h.01M821.0 310.3h.01M821.0 323.5h.01M821.0 311.5h.01M821.0 324.1h.01M826.6 332.3h.01M826.6 301.9h.01M826.6 332.3h.01M826.6 323.5h.01M826.6 314.7h.01M826.6 317.7h.01M826.6 320.2h.01M826.6 313.9h.01M826.6 312.0h.01M826.6 310.8h.01M826.6 323.3h.01M826.6 317.0h.01M826.6 319.7h.01M826.6 323.9h.01M826.6 328.6h.01M826.6 318.0h.01M826.6 323.8h.01M826.6 301.9h.01M826.6 318.0h.01M832.1 327.7h.01M832.1 297.1h.01M832.1 319.7h.01M832.1 313.8h.01M832.1 318.4h.01M832.1 313.5h.01M832.1 312.8h.01M832.1 304.1h.01M832.1 323.4h.01M832.1 312.7h.01M832.1 300.2h.01M832.1 316.4h.01M832.1 313.9h.01M832.1 319.3h.01M832.1 327.7h.01M832.1 313.3h.01M832.1 303.5h.01M832.1 316.1h.01M837.7 325.8h.01M837.7 293.7h.01M837.7 301.8h.01M837.7 302.6h.01M837.7 312.1h.01M837.7 306.7h.01M837.7 324.4h.01M837.7 300.9h.01M837.7 308.4h.01M837.7 301.2h.01M837.7 301.3h.01M837.7 312.2h.01M837.7 311.1h.01M837.7 316.9h.01M837.7 325.8h.01M837.7 310.9h.01M837.7 308.7h.01M837.7 318.6h.01M843.2 333.2h.01M843.2 291.4h.01M843.2 320.5h.01M843.2 330.9h.01M843.2 304.3h.01M843.2 306.1h.01M843.2 313.6h.01M843.2 316.9h.01M843.2 315.4h.01M843.2 313.9h.01M843.2 317.8h.01M843.2 333.2h.01M843.2 304.3h.01M843.2 328.1h.01M843.2 315.9h.01M843.2 315.7h.01M843.2 309.7h.01M843.2 329.3h.01M848.8 330.1h.01M848.8 296.5h.01M848.8 302.8h.01M848.8 320.2h.01M848.8 330.1h.01M848.8 310.6h.01M848.8 302.4h.01M848.8 303.6h.01M848.8 317.9h.01M848.8 314.2h.01M848.8 311.0h.01M848.8 328.6h.01M848.8 319.0h.01M848.8 318.7h.01M848.8 300.1h.01M848.8 318.9h.01M848.8 300.2h.01M848.8 313.3h.01M854.3 325.7h.01M854.3 288.6h.01M854.3 301.4h.01M854.3 291.3h.01M854.3 312.1h.01M854.3 318.6h.01M854.3 297.5h.01M854.3 306.6h.01M854.3 318.5h.01M854.3 317.2h.01M854.3 310.8h.01M854.3 298.2h.01M854.3 309.8h.01M854.3 301.1h.01M854.3 291.8h.01M854.3 295.4h.01M854.3 293.8h.01M854.3 295.7h.01M859.9 324.2h.01M859.9 295.3h.01M859.9 310.7h.01M859.9 317.6h.01M859.9 321.2h.01M859.9 317.8h.01M859.9 309.9h.01M859.9 318.3h.01M859.9 315.7h.01M859.9 314.2h.01M859.9 305.0h.01M859.9 311.9h.01M859.9 310.8h.01M859.9 300.2h.01M859.9 312.1h.01M859.9 305.4h.01M859.9 317.4h.01M859.9 307.4h.01M865.4 325.5h.01M865.4 286.4h.01M865.4 316.0h.01M865.4 308.9h.01M865.4 310.5h.01M865.4 295.9h.01M865.4 297.1h.01M865.4 317.7h.01M865.4 299.8h.01M865.4 310.6h.01M865.4 301.5h.01M865.4 310.7h.01M865.4 320.3h.01M865.4 296.0h.01M865.4 301.5h.01M865.4 317.9h.01M865.4 324.4h.01M865.4 311.2h.01M871.0 323.1h.01M871.0 294.4h.01M871.0 298.2h.01M871.0 311.3h.01M871.0 298.9h.01M871.0 300.4h.01M871.0 311.9h.01M871.0 320.7h.01M871.0 302.6h.01M871.0 304.4h.01M871.0 294.4h.01M871.0 298.5h.01M871.0 303.1h.01M871.0 296.6h.01M871.0 316.2h.01M871.0 307.3h.01M871.0 310.7h.01M871.0 296.2h.01M876.5 318.6h.01M876.5 291.2h.01M876.5 311.1h.01M876.5 299.6h.01M876.5 308.2h.01M876.5 303.2h.01M876.5 300.5h.01M876.5 303.5h.01M876.5 311.4h.01M876.5 295.3h.01M876.5 302.1h.01M876.5 305.0h.01M876.5 300.0h.01M876.5 308.5h.01M876.5 291.9h.01M876.5 303.3h.01M876.5 302.3h.01M876.5 302.4h.01M882.1 314.2h.01M882.1 290.0h.01M882.1 299.9h.01M882.1 293.9h.01M882.1 299.3h.01M882.1 308.6h.01M882.1 298.8h.01M882.1 297.0h.01M882.1 295.9h.01M882.1 300.0h.01M882.1 309.4h.01M882.1 295.0h.01M882.1 306.4h.01M882.1 298.5h.01M882.1 311.5h.01M882.1 297.4h.01M882.1 306.8h.01M882.1 295.5h.01M887.6 312.6h.01M887.6 290.7h.01M887.6 306.7h.01M887.6 306.3h.01M887.6 298.0h.01M887.6 299.7h.01M887.6 300.7h.01M887.6 299.9h.01M887.6 298.4h.01M887.6 298.0h.01M887.6 292.3h.01M887.6 301.9h.01M887.6 300.5h.01M887.6 311.7h.01M887.6 308.8h.01M887.6 305.4h.01M887.6 308.1h.01M887.6 300.4h.01M893.2 309.8h.01M893.2 290.9h.01M893.2 302.7h.01M893.2 299.7h.01M893.2 302.9h.01M893.2 298.3h.01M893.2 298.9h.01M893.2 298.7h.01M893.2 296.7h.01M893.2 300.2h.01M893.2 299.7h.01M893.2 292.0h.01M893.2 300.6h.01M893.2 296.6h.01M893.2 300.1h.01M893.2 302.5h.01M893.2 302.5h.01M893.2 304.2h.01M898.8 313.3h.01M898.8 286.6h.01M898.8 291.8h.01M898.8 300.9h.01M898.8 292.4h.01M898.8 298.2h.01M898.8 294.2h.01M898.8 304.1h.01M898.8 299.0h.01M898.8 286.6h.01M898.8 294.5h.01M898.8 293.3h.01M898.8 298.4h.01M898.8 294.3h.01M898.8 307.8h.01M898.8 305.7h.01M898.8 297.1h.01M898.8 294.5h.01M904.3 308.1h.01M904.3 283.0h.01M904.3 296.8h.01M904.3 303.1h.01M904.3 304.6h.01M904.3 296.1h.01M904.3 306.5h.01M904.3 301.8h.01M904.3 299.8h.01M904.3 302.2h.01M904.3 294.1h.01M904.3 298.4h.01M904.3 296.2h.01M904.3 302.0h.01M904.3 300.3h.01M904.3 292.4h.01M904.3 293.4h.01M909.9 303.6h.01M909.9 281.7h.01M909.9 291.9h.01M909.9 284.1h.01M909.9 295.0h.01M909.9 290.5h.01M909.9 290.5h.01M909.9 294.1h.01M909.9 299.2h.01M909.9 289.1h.01M909.9 291.4h.01M909.9 292.6h.01M909.9 292.7h.01M909.9 292.8h.01M909.9 297.8h.01M909.9 291.3h.01M909.9 302.8h.01M915.4 309.3h.01M915.4 274.8h.01M915.4 286.2h.01M915.4 294.7h.01M915.4 296.6h.01M915.4 288.0h.01M915.4 294.8h.01M915.4 296.0h.01M915.4 295.9h.01M915.4 279.4h.01M915.4 286.7h.01M915.4 288.3h.01M915.4 302.8h.01M915.4 287.2h.01M915.4 303.7h.01M915.4 288.4h.01M921.0 302.3h.01M921.0 270.4h.01M921.0 277.1h.01M921.0 280.4h.01M921.0 301.0h.01M921.0 288.7h.01M921.0 275.3h.01M921.0 277.8h.01M921.0 300.0h.01M921.0 291.0h.01M921.0 296.2h.01M921.0 295.0h.01M921.0 292.0h.01M921.0 272.2h.01M926.5 296.6h.01M926.5 267.9h.01M926.5 277.9h.01M926.5 277.8h.01M926.5 289.3h.01M926.5 272.2h.01M926.5 290.5h.01M926.5 284.7h.01M926.5 279.5h.01M926.5 270.5h.01M926.5 285.2h.01M926.5 280.7h.01M926.5 273.4h.01M932.1 293.9h.01M932.1 267.1h.01M932.1 279.2h.01M932.1 276.7h.01M932.1 274.8h.01M932.1 281.1h.01M932.1 270.3h.01M932.1 293.9h.01M932.1 287.1h.01M932.1 271.3h.01M932.1 278.1h.01M932.1 285.3h.01M937.6 291.5h.01M937.6 265.5h.01M937.6 273.9h.01M937.6 279.7h.01M937.6 279.6h.01M937.6 279.3h.01M937.6 271.7h.01M937.6 286.2h.01M937.6 281.3h.01M937.6 274.6h.01M943.2 297.4h.01M943.2 262.8h.01M943.2 280.6h.01M943.2 281.9h.01M943.2 279.4h.01M943.2 289.0h.01M943.2 262.8h.01M943.2 289.1h.01M948.7 294.6h.01M948.7 249.9h.01M948.7 255.9h.01M948.7 272.7h.01M948.7 266.3h.01M232.6 400.4h.01M249.3 401.1h.01M260.4 400.9h.01M216.0 381.8h.01M327.0 378.8h.01M321.4 389.5h.01M532.4 367.5h.01M1120.8 155.8h.01M1126.3 166.8h.01M1143.0 175.5h.01M1148.5 174.5h.01M1137.4 191.3h.01M1143.0 191.3h.01M1148.5 190.8h.01M1154.1 188.8h.01M1126.3 212.5h.01M1126.3 215.0h.01M1465.0 286.8h.01M604.5 344.6h.01M693.4 327.7h.01M815.5 359.6h.01M809.9 400.6h.01M649.0 348.1h.01M632.3 350.2h.01M754.4 363.8h.01M587.9 388.8h.01M604.5 344.8h.01M693.4 327.8h.01M737.8 306.2h.01M932.1 255.6h.01M937.6 241.9h.01M937.6 247.5h.01M937.6 258.1h.01M948.7 255.6h.01M948.7 261.2h.01M948.7 267.5h.01M948.7 292.5h.01M948.7 298.8h.01M959.8 246.9h.01M959.8 265.0h.01M959.8 271.2h.01M959.8 282.5h.01M959.8 288.8h.01M965.4 255.0h.01M965.4 265.0h.01M965.4 272.5h.01M970.9 247.5h.01M970.9 268.8h.01M970.9 277.5h.01M970.9 286.2h.01M976.5 252.5h.01M976.5 260.0h.01M976.5 270.0h.01M976.5 285.0h.01M982.0 231.9h.01M982.0 240.0h.01M982.0 248.8h.01M982.0 256.2h.01M982.0 265.0h.01M982.0 275.0h.01M982.0 283.8h.01M987.6 242.5h.01M987.6 250.0h.01M987.6 257.5h.01M987.6 265.0h.01M987.6 272.5h.01M993.1 238.8h.01M993.1 252.5h.01M993.1 262.5h.01M993.1 280.0h.01M998.7 227.5h.01M998.7 267.5h.01M1004.2 252.5h.01M1004.2 272.5h.01M1004.2 276.2h.01M1009.8 228.8h.01M1009.8 248.8h.01M1009.8 255.0h.01M1015.3 223.8h.01M1015.3 231.2h.01M1015.3 245.0h.01M1015.3 260.0h.01M1020.9 205.6h.01M1020.9 242.5h.01M1020.9 250.0h.01M1026.4 212.5h.01M1026.4 232.5h.01M1026.4 245.0h.01M1037.5 223.8h.01M1037.5 255.0h.01M1037.5 261.2h.01M1037.5 266.2h.01M1043.1 255.0h.01M1043.1 261.2h.01M1048.6 234.4h.01M1048.6 241.2h.01M1048.6 195.0h.01M1054.2 197.5h.01M1059.7 193.8h.01M1059.7 250.0h.01M1065.3 208.8h.01M1065.3 248.1h.01M1070.8 196.9h.01M1070.8 212.5h.01M1070.8 228.8h.01M1070.8 235.0h.01M1070.8 242.5h.01M1076.4 213.1h.01M1076.4 231.2h.01M1081.9 198.8h.01M1081.9 215.6h.01M1081.9 228.8h.01M1087.5 198.1h.01M1087.5 210.0h.01M1093.0 210.6h.01M1093.0 246.9h.01M1098.6 233.8h.01M1104.1 223.8h.01M1115.2 193.8h.01M1115.2 201.2h.01"/>
<path class="p s" d=""/>
</g>
<rect x="102" y="469" width="1428" height="47" fill="#D9D9D9"/>
<rect x="102" y="516" width="1428" height="357" fill="#EBEBEB"/>
<clipPath id="c2"><rect x="102" y="516" width="1428" height="357"/></clipPath>
<path class="mn" d="M211.5 516V873M585.5 516V873M958.5 516V873M1331.5 516V873M102 797.5H1530M102 676.5H1530M102 554.5H1530"/>
<path class="mj" d="M398 516V873M771 516V873M1144 516V873M1518 516V873M102 857H1530M102 736H1530M102 615H1530"/>
<path class="tk" d="M398 873v8M771 873v8M1144 873v8M1518 873v8M102 857h-8M102 736h-8M102 615h-8"/>
<text class="ax" text-anchor="middle" x="398.0" y="905.6">50</text>
<text class="ax" text-anchor="middle" x="771.2" y="905.6">100</text>
<text class="ax" text-anchor="middle" x="1144.5" y="905.6">150</text>
<text class="ax" text-anchor="middle" x="1517.8" y="905.6">200</text>
<text class="ax" text-anchor="end" x="88.4" y="866.6">0</text>
<text class="ax" text-anchor="end" x="88.4" y="745.6">50</text>
<text class="ax" text-anchor="end" x="88.4" y="624.6">100</text>
<text class="st" text-anchor="middle" x="816" y="501.6">OG</text>
<g clip-path="url(#c2)">
<path class="p t" d="M196.4 857.1h.01M203.9 857.0h.01M211.4 857.0h.01M218.8 857.1h.01M218.8 856.7h.01M226.3 856.9h.01M233.8 856.9h.01M241.2 856.7h.01M248.7 857.0h.01M248.7 856.6h.01M256.2 856.6h.01M263.6 857.0h.01M263.6 856.4h.01M271.1 856.9h.01M271.1 856.4h.01M278.6 857.0h.01M278.6 856.4h.01M286.0 856.8h.01M286.0 856.3h.01M293.5 856.9h.01M293.5 856.1h.01M301.0 856.8h.01M301.0 856.1h.01M301.0 856.3h.01M308.4 856.7h.01M308.4 855.9h.01M308.4 856.6h.01"/>
<path class="p s" d="M174.1 856.4h.01M181.5 856.6h.01M181.5 855.9h.01M189.0 856.5h.01M189.0 855.6h.01M196.4 856.5h.01M196.4 855.4h.01M203.9 856.5h.01M203.9 855.2h.01M203.9 855.8h.01M211.4 856.2h.01M211.4 855.1h.01M211.4 856.0h.01M218.8 856.2h.01M218.8 854.8h.01M218.8 855.7h.01M218.8 854.9h.01M226.3 856.3h.01M226.3 854.7h.01M226.3 855.2h.01M226.3 855.2h.01M233.8 856.3h.01M233.8 854.7h.01M233.8 854.8h.01M233.8 855.5h.01M241.2 856.2h.01M241.2 854.1h.01M241.2 855.3h.01M241.2 855.2h.01M241.2 854.9h.01M248.7 856.1h.01M248.7 854.1h.01M248.7 855.5h.01M248.7 855.7h.01M248.7 854.9h.01M256.2 856.1h.01M256.2 853.5h.01M256.2 854.9h.01M256.2 854.5h.01M256.2 854.6h.01M256.2 855.5h.01M263.6 855.7h.01M263.6 852.6h.01M263.6 854.2h.01M263.6 854.5h.01M263.6 853.8h.01M263.6 854.5h.01M271.1 855.3h.01M271.1 852.9h.01M271.1 853.5h.01M271.1 853.6h.01M271.1 853.9h.01M271.1 854.1h.01M278.6 855.3h.01M278.6 851.7h.01M278.6 852.8h.01M278.6 854.0h.01M278.6 853.1h.01M278.6 854.4h.01M286.0 854.5h.01M286.0 851.5h.01M286.0 852.7h.01M286.0 854.3h.01M286.0 853.0h.01M286.0 853.1h.01M293.5 854.8h.01M293.5 851.5h.01M293.5 851.6h.01M293.5 853.1h.01M293.5 852.4h.01M293.5 851.8h.01M293.5 852.4h.01M301.0 854.5h.01M301.0 850.5h.01M301.0 853.5h.01M301.0 851.6h.01M301.0 852.1h.01M301.0 852.1h.01M301.0 854.3h.01M308.4 853.4h.01M308.4 850.6h.01M308.4 851.6h.01M308.4 851.0h.01M308.4 851.9h.01M308.4 852.4h.01M308.4 852.0h.01M308.4 852.4h.01M315.9 854.5h.01M315.9 848.9h.01M315.9 852.8h.01M315.9 852.4h.01M315.9 850.6h.01M315.9 851.7h.01M315.9 850.1h.01M323.4 853.2h.01M323.4 848.9h.01M323.4 849.7h.01M323.4 851.7h.01M323.4 851.3h.01M323.4 851.6h.01M323.4 851.5h.01M323.4 852.3h.01M330.8 853.3h.01M330.8 848.9h.01M330.8 850.6h.01M330.8 851.7h.01M330.8 849.5h.01M330.8 852.9h.01M330.8 850.5h.01M330.8 852.4h.01M338.3 853.1h.01M338.3 848.2h.01M338.3 851.3h.01M338.3 848.5h.01M338.3 850.2h.01M338.3 849.6h.01M338.3 851.0h.01M338.3 850.6h.01M345.7 852.2h.01M345.7 846.0h.01M345.7 847.6h.01M345.7 848.6h.01M345.7 850.2h.01M345.7 849.3h.01M345.7 850.4h.01M345.7 848.2h.01M353.2 852.5h.01M353.2 845.3h.01M353.2 847.8h.01M353.2 846.3h.01M353.2 850.1h.01M353.2 847.5h.01M353.2 849.1h.01M353.2 847.2h.01M353.2 849.7h.01M360.7 850.8h.01M360.7 844.5h.01M360.7 849.3h.01M360.7 848.2h.01M360.7 845.8h.01M360.7 848.1h.01M360.7 846.5h.01M360.7 845.5h.01M360.7 846.0h.01M368.1 852.2h.01M368.1 843.5h.01M368.1 850.5h.01M368.1 851.0h.01M368.1 845.8h.01M368.1 844.8h.01M368.1 848.4h.01M368.1 847.7h.01M368.1 852.2h.01M375.6 851.1h.01M375.6 842.9h.01M375.6 845.9h.01M375.6 845.7h.01M375.6 845.2h.01M375.6 847.1h.01M375.6 846.4h.01M375.6 848.6h.01M375.6 844.1h.01M383.1 851.2h.01M383.1 842.3h.01M383.1 847.1h.01M383.1 843.8h.01M383.1 848.0h.01M383.1 845.8h.01M383.1 846.3h.01M383.1 846.9h.01M383.1 846.2h.01M383.1 845.1h.01M390.5 852.0h.01M390.5 842.1h.01M390.5 848.1h.01M390.5 849.2h.01M390.5 846.2h.01M390.5 851.0h.01M390.5 847.1h.01M390.5 848.1h.01M390.5 846.6h.01M390.5 845.8h.01M398.0 849.4h.01M398.0 839.2h.01M398.0 845.5h.01M398.0 847.2h.01M398.0 844.8h.01M398.0 842.5h.01M398.0 839.8h.01M398.0 839.2h.01M398.0 843.3h.01M398.0 841.3h.01M405.5 849.7h.01M405.5 839.4h.01M405.5 843.3h.01M405.5 844.7h.01M405.5 843.0h.01M405.5 842.7h.01M405.5 849.4h.01M405.5 844.2h.01M405.5 843.8h.01M405.5 846.1h.01M412.9 848.5h.01M412.9 839.8h.01M412.9 844.3h.01M412.9 848.2h.01M412.9 843.2h.01M412.9 842.9h.01M412.9 843.4h.01M412.9 842.9h.01M412.9 845.0h.01M412.9 845.3h.01M412.9 847.8h.01M420.4 849.4h.01M420.4 839.6h.01M420.4 844.5h.01M420.4 841.3h.01M420.4 842.6h.01M420.4 846.9h.01M420.4 845.8h.01M420.4 847.0h.01M420.4 847.9h.01M420.4 843.9h.01M420.4 842.9h.01M427.9 848.3h.01M427.9 838.6h.01M427.9 844.8h.01M427.9 842.6h.01M427.9 845.7h.01M427.9 843.4h.01M427.9 842.2h.01M427.9 847.8h.01M427.9 839.9h.01M427.9 847.4h.01M427.9 843.2h.01M435.3 846.5h.01M435.3 835.8h.01M435.3 842.4h.01M435.3 835.8h.01M435.3 836.6h.01M435.3 838.8h.01M435.3 842.9h.01M435.3 840.1h.01M435.3 845.4h.01M435.3 843.1h.01M435.3 839.9h.01M442.8 846.7h.01M442.8 835.7h.01M442.8 838.9h.01M442.8 843.7h.01M442.8 840.4h.01M442.8 841.2h.01M442.8 837.3h.01M442.8 844.4h.01M442.8 839.9h.01M442.8 841.5h.01M442.8 835.7h.01M450.3 846.3h.01M450.3 834.2h.01M450.3 838.6h.01M450.3 844.6h.01M450.3 844.1h.01M450.3 841.0h.01M450.3 840.0h.01M450.3 846.3h.01M450.3 842.2h.01M450.3 841.6h.01M450.3 840.7h.01M457.7 846.9h.01M457.7 833.5h.01M457.7 844.3h.01M457.7 845.6h.01M457.7 839.9h.01M457.7 835.4h.01M457.7 840.2h.01M457.7 837.2h.01M457.7 844.0h.01M457.7 837.2h.01M457.7 840.9h.01M457.7 839.8h.01M465.2 843.7h.01M465.2 832.4h.01M465.2 836.9h.01M465.2 837.1h.01M465.2 840.0h.01M465.2 838.9h.01M465.2 838.0h.01M465.2 833.5h.01M465.2 841.3h.01M465.2 837.7h.01M465.2 835.2h.01M465.2 836.1h.01M472.6 844.6h.01M472.6 829.0h.01M472.6 835.6h.01M472.6 833.7h.01M472.6 837.6h.01M472.6 836.3h.01M472.6 838.3h.01M472.6 840.0h.01M472.6 832.1h.01M472.6 830.1h.01M472.6 837.4h.01M472.6 839.9h.01M480.1 842.7h.01M480.1 830.7h.01M480.1 836.2h.01M480.1 831.3h.01M480.1 837.8h.01M480.1 836.5h.01M480.1 832.1h.01M480.1 840.1h.01M480.1 841.2h.01M480.1 830.7h.01M480.1 833.7h.01M480.1 837.8h.01M487.6 842.0h.01M487.6 826.4h.01M487.6 826.4h.01M487.6 840.5h.01M487.6 827.9h.01M487.6 832.6h.01M487.6 833.4h.01M487.6 833.1h.01M487.6 836.6h.01M487.6 834.9h.01M487.6 836.1h.01M487.6 839.7h.01M495.0 843.6h.01M495.0 829.7h.01M495.0 830.0h.01M495.0 838.4h.01M495.0 831.4h.01M495.0 832.1h.01M495.0 835.9h.01M495.0 831.3h.01M495.0 838.6h.01M495.0 839.7h.01M495.0 838.3h.01M495.0 837.9h.01M502.5 839.2h.01M502.5 823.8h.01M502.5 832.6h.01M502.5 831.6h.01M502.5 830.5h.01M502.5 832.8h.01M502.5 826.3h.01M502.5 833.0h.01M502.5 835.1h.01M502.5 825.1h.01M502.5 826.2h.01M510.0 839.9h.01M510.0 823.2h.01M510.0 828.5h.01M510.0 825.0h.01M510.0 824.6h.01M510.0 832.7h.01M510.0 831.1h.01M510.0 832.3h.01M510.0 831.2h.01M510.0 833.3h.01M510.0 832.9h.01M510.0 832.1h.01M517.4 840.0h.01M517.4 823.5h.01M517.4 828.6h.01M517.4 829.8h.01M517.4 828.8h.01M517.4 828.6h.01M517.4 829.4h.01M517.4 827.3h.01M517.4 831.5h.01M517.4 836.6h.01M517.4 826.5h.01M524.9 837.0h.01M524.9 819.5h.01M524.9 824.7h.01M524.9 833.8h.01M524.9 826.3h.01M524.9 828.3h.01M524.9 826.6h.01M524.9 830.6h.01M524.9 820.9h.01M524.9 832.3h.01M524.9 832.7h.01M532.4 834.5h.01M532.4 819.1h.01M532.4 821.2h.01M532.4 830.7h.01M532.4 819.1h.01M532.4 832.3h.01M532.4 825.1h.01M532.4 820.1h.01M532.4 819.1h.01M532.4 827.6h.01M532.4 832.4h.01M539.8 834.2h.01M539.8 817.1h.01M539.8 829.6h.01M539.8 821.5h.01M539.8 829.5h.01M539.8 822.1h.01M539.8 817.1h.01M539.8 822.2h.01M539.8 820.4h.01M539.8 824.6h.01M539.8 826.6h.01M547.3 832.4h.01M547.3 815.9h.01M547.3 827.1h.01M547.3 815.9h.01M547.3 821.4h.01M547.3 822.9h.01M547.3 825.4h.01M547.3 825.3h.01M547.3 824.4h.01M547.3 832.4h.01M547.3 816.7h.01M554.8 830.2h.01M554.8 818.9h.01M554.8 824.7h.01M554.8 820.4h.01M554.8 826.1h.01M554.8 822.0h.01M554.8 829.0h.01M554.8 821.9h.01M554.8 828.6h.01M554.8 824.3h.01M562.2 832.4h.01M562.2 814.1h.01M562.2 825.0h.01M562.2 822.4h.01M562.2 818.5h.01M562.2 822.9h.01M562.2 817.2h.01M562.2 826.7h.01M562.2 827.3h.01M562.2 818.6h.01M562.2 827.7h.01M569.7 834.3h.01M569.7 813.9h.01M569.7 821.8h.01M569.7 827.7h.01M569.7 827.4h.01M569.7 831.3h.01M569.7 819.8h.01M569.7 828.5h.01M569.7 828.9h.01M569.7 824.4h.01M577.2 829.1h.01M577.2 812.7h.01M577.2 820.6h.01M577.2 823.8h.01M577.2 823.0h.01M577.2 815.9h.01M577.2 820.6h.01M577.2 823.2h.01M577.2 821.5h.01M577.2 818.9h.01M577.2 813.3h.01M584.6 832.8h.01M584.6 811.5h.01M584.6 820.7h.01M584.6 825.2h.01M584.6 826.1h.01M584.6 826.3h.01M584.6 824.9h.01M584.6 820.8h.01M584.6 812.2h.01M584.6 827.6h.01M592.1 827.1h.01M592.1 813.1h.01M592.1 815.0h.01M592.1 815.2h.01M592.1 818.2h.01M592.1 820.1h.01M592.1 824.2h.01M592.1 819.9h.01M592.1 819.0h.01M599.6 828.5h.01M599.6 812.6h.01M599.6 818.9h.01M599.6 821.0h.01M599.6 816.9h.01M599.6 823.0h.01M599.6 822.9h.01M599.6 815.9h.01M599.6 820.2h.01M607.0 824.4h.01M607.0 810.4h.01M607.0 818.1h.01M607.0 824.0h.01M607.0 815.1h.01M607.0 815.1h.01M607.0 817.8h.01M607.0 817.8h.01M614.5 825.8h.01M614.5 809.1h.01M614.5 821.6h.01M614.5 809.1h.01M614.5 821.9h.01M614.5 816.3h.01M614.5 821.5h.01M614.5 820.7h.01M622.0 824.7h.01M622.0 808.6h.01M622.0 812.3h.01M622.0 815.9h.01M622.0 814.4h.01M622.0 813.6h.01M622.0 819.8h.01M622.0 817.4h.01M629.4 820.1h.01M629.4 807.9h.01M629.4 816.6h.01M629.4 812.9h.01M629.4 815.2h.01M629.4 811.4h.01M629.4 809.8h.01M636.9 821.3h.01M636.9 806.2h.01M636.9 817.0h.01M636.9 815.1h.01M636.9 810.1h.01M636.9 812.9h.01M644.3 817.0h.01M644.3 807.5h.01M644.3 809.6h.01M532.4 628.0h.01M883.2 678.0h.01M980.3 655.8h.01M1017.6 644.5h.01M1032.5 643.8h.01M1010.1 659.5h.01M1025.1 663.0h.01M965.3 668.8h.01M935.5 682.5h.01M957.9 685.0h.01M980.3 685.0h.01M980.3 691.8h.01M957.9 693.8h.01M957.9 700.8h.01M1010.1 693.8h.01M1025.1 695.5h.01M1010.1 700.8h.01M987.7 702.5h.01M995.2 707.0h.01M1017.6 707.5h.01M920.5 704.5h.01M935.5 704.5h.01M942.9 704.5h.01M965.3 707.0h.01M875.8 713.0h.01M928.0 712.5h.01M913.1 714.5h.01M950.4 712.5h.01M957.9 715.0h.01M1010.1 715.0h.01M831.0 721.8h.01M905.6 720.5h.01M965.3 719.5h.01M920.5 720.0h.01M935.5 720.5h.01M942.9 726.2h.01M1010.1 724.5h.01M1017.6 723.8h.01M1040.0 721.2h.01M853.4 727.0h.01M890.7 726.2h.01M898.2 726.2h.01M875.8 728.8h.01M905.6 728.8h.01M920.5 727.5h.01M875.8 735.0h.01M883.2 735.0h.01M898.2 736.2h.01M913.1 736.2h.01M920.5 735.0h.01M935.5 737.5h.01M1032.5 735.0h.01M845.9 741.2h.01M853.4 741.2h.01M860.8 741.2h.01M883.2 741.2h.01M890.7 742.5h.01M905.6 743.8h.01M980.3 738.8h.01M957.9 742.5h.01M965.3 750.8h.01M831.0 748.0h.01M883.2 750.0h.01M853.4 755.0h.01M838.4 761.2h.01M920.5 768.0h.01M793.6 756.8h.01M816.0 754.5h.01M808.6 761.2h.01M778.7 764.2h.01M808.6 769.2h.01M823.5 770.0h.01M726.5 763.8h.01M733.9 765.8h.01M748.9 776.2h.01M763.8 775.0h.01M778.7 775.0h.01M771.2 783.8h.01M719.0 778.8h.01M711.5 783.0h.01M719.0 790.0h.01M711.5 794.2h.01M733.9 785.0h.01M733.9 789.2h.01M748.9 785.0h.01M756.3 789.2h.01M756.3 798.0h.01M793.6 783.0h.01M793.6 786.8h.01M801.1 785.8h.01M733.9 805.8h.01M651.8 783.0h.01M666.7 790.8h.01M681.7 793.2h.01M689.1 796.2h.01M696.6 798.8h.01M704.1 802.5h.01M696.6 807.0h.01M681.7 800.0h.01M674.2 806.2h.01M659.3 802.5h.01M674.2 816.2h.01M666.7 812.5h.01M1256.5 531.8h.01M1181.8 538.8h.01M1181.8 561.9h.01M1308.7 572.0h.01M1069.8 585.8h.01M1204.2 599.8h.01M1249.0 599.8h.01M1107.2 602.9h.01M1084.8 615.6h.01M1099.7 622.1h.01M1249.0 624.0h.01M1069.8 632.7h.01M1114.6 637.8h.01M1129.6 638.9h.01M1017.6 644.8h.01M1032.5 644.0h.01M1084.8 643.2h.01M1077.3 648.5h.01M1107.2 647.7h.01M1054.9 654.7h.01M1069.8 660.0h.01M1010.1 660.0h.01M1025.1 662.6h.01M1107.2 683.9h.01M1010.1 693.5h.01M1025.1 695.5h.01M1010.1 701.1h.01M1017.6 708.1h.01M1054.9 708.1h.01M1010.1 716.0h.01M1010.1 724.4h.01M1017.6 723.9h.01M1040.0 720.8h.01M1032.5 734.8h.01M398.0 827.5h.01M524.9 813.0h.01M547.3 800.8h.01M547.3 808.3h.01M651.8 782.5h.01M666.7 790.8h.01M681.7 793.3h.01M435.3 858.3h.01M495.0 857.3h.01M554.8 854.3h.01M420.4 857.0h.01M599.6 533.2h.01M995.2 634.6h.01"/>
<path class="p t" d="M315.9 856.8h.01M315.9 855.9h.01M315.9 856.4h.01M323.4 856.6h.01M323.4 855.9h.01M323.4 856.3h.01M330.8 856.6h.01M330.8 855.7h.01M330.8 855.9h.01M330.8 856.0h.01M338.3 856.5h.01M338.3 855.6h.01M338.3 856.3h.01M345.7 856.3h.01M345.7 855.2h.01M345.7 856.1h.01M353.2 856.2h.01M353.2 855.2h.01M353.2 855.6h.01M353.2 855.8h.01M360.7 856.0h.01M360.7 855.0h.01M360.7 855.4h.01M360.7 856.0h.01M368.1 855.8h.01M368.1 854.7h.01M368.1 855.5h.01M368.1 854.8h.01M375.6 855.9h.01M375.6 854.8h.01M375.6 855.2h.01M375.6 855.3h.01M383.1 855.6h.01M383.1 854.3h.01M383.1 855.2h.01M383.1 855.2h.01M390.5 855.4h.01M390.5 854.3h.01M390.5 855.0h.01M390.5 855.3h.01M398.0 855.5h.01M398.0 854.3h.01M398.0 854.9h.01M398.0 855.0h.01M405.5 855.1h.01M405.5 853.8h.01M405.5 854.9h.01M405.5 855.0h.01M405.5 854.6h.01M412.9 855.3h.01M412.9 853.7h.01M412.9 854.3h.01M412.9 854.3h.01M412.9 854.7h.01M420.4 854.6h.01M420.4 852.8h.01M420.4 854.0h.01M420.4 853.9h.01M420.4 853.1h.01M427.9 854.9h.01M427.9 852.7h.01M427.9 853.5h.01M427.9 853.0h.01M427.9 853.4h.01M435.3 854.2h.01M435.3 852.5h.01M435.3 853.4h.01M435.3 852.9h.01M435.3 852.9h.01M435.3 853.2h.01M442.8 854.2h.01M442.8 851.5h.01M442.8 852.8h.01M442.8 853.7h.01M442.8 852.4h.01M442.8 851.5h.01M450.3 853.9h.01M450.3 851.4h.01M450.3 852.9h.01M450.3 852.9h.01M450.3 852.6h.01M450.3 852.3h.01M457.7 854.0h.01M457.7 851.4h.01M457.7 853.0h.01M457.7 854.0h.01M457.7 852.3h.01M457.7 852.5h.01M465.2 853.7h.01M465.2 850.8h.01M465.2 851.3h.01M465.2 852.6h.01M465.2 852.3h.01M465.2 853.2h.01M472.6 853.9h.01M472.6 850.9h.01M472.6 853.0h.01M472.6 853.4h.01M472.6 852.8h.01M472.6 852.3h.01M480.1 853.5h.01M480.1 849.7h.01M480.1 850.8h.01M480.1 850.3h.01M480.1 850.2h.01M480.1 853.0h.01M487.6 853.3h.01M487.6 849.6h.01M487.6 851.2h.01M487.6 851.2h.01M487.6 851.2h.01M487.6 852.1h.01M495.0 852.8h.01M495.0 848.9h.01M495.0 849.7h.01M495.0 852.8h.01M495.0 851.2h.01M495.0 849.2h.01M495.0 850.0h.01M502.5 852.1h.01M502.5 848.0h.01M502.5 849.9h.01M502.5 851.3h.01M502.5 850.6h.01M502.5 848.5h.01M510.0 853.0h.01M510.0 848.2h.01M510.0 851.2h.01M510.0 851.1h.01M510.0 849.9h.01M510.0 851.6h.01M517.4 851.9h.01M517.4 848.1h.01M517.4 850.9h.01M517.4 851.4h.01M517.4 849.8h.01M517.4 848.1h.01M517.4 850.1h.01M524.9 851.6h.01M524.9 847.2h.01M524.9 850.4h.01M524.9 851.4h.01M524.9 849.5h.01M524.9 847.8h.01M524.9 848.1h.01M532.4 851.4h.01M532.4 846.6h.01M532.4 847.7h.01M532.4 849.0h.01M532.4 848.6h.01M532.4 849.4h.01M532.4 847.6h.01M539.8 851.6h.01M539.8 845.8h.01M539.8 847.4h.01M539.8 847.6h.01M539.8 849.3h.01M539.8 849.5h.01M539.8 849.3h.01M547.3 850.3h.01M547.3 844.9h.01M547.3 848.4h.01M547.3 848.9h.01M547.3 847.1h.01M547.3 848.6h.01M547.3 847.2h.01M554.8 850.1h.01M554.8 843.9h.01M554.8 845.4h.01M554.8 846.6h.01M554.8 843.9h.01M554.8 844.4h.01M554.8 845.3h.01M554.8 847.2h.01M562.2 849.5h.01M562.2 844.3h.01M562.2 847.2h.01M562.2 846.0h.01M562.2 848.5h.01M562.2 849.5h.01M562.2 848.2h.01M569.7 850.1h.01M569.7 842.3h.01M569.7 846.6h.01M569.7 850.1h.01M569.7 843.3h.01M569.7 845.4h.01M569.7 847.9h.01M569.7 845.6h.01M577.2 848.5h.01M577.2 841.6h.01M577.2 843.9h.01M577.2 843.5h.01M577.2 847.1h.01M577.2 847.5h.01M577.2 846.1h.01M577.2 843.3h.01M584.6 848.9h.01M584.6 843.1h.01M584.6 844.5h.01M584.6 846.1h.01M584.6 847.1h.01M584.6 846.9h.01M584.6 845.9h.01M584.6 844.0h.01M592.1 847.5h.01M592.1 841.9h.01M592.1 843.5h.01M592.1 844.4h.01M592.1 846.0h.01M592.1 843.7h.01M592.1 842.7h.01M592.1 843.5h.01M599.6 847.8h.01M599.6 840.7h.01M599.6 845.3h.01M599.6 845.9h.01M599.6 840.8h.01M599.6 840.7h.01M599.6 844.3h.01M599.6 843.1h.01M607.0 848.2h.01M607.0 841.4h.01M607.0 843.6h.01M607.0 844.9h.01M607.0 845.7h.01M607.0 846.5h.01M607.0 848.2h.01M607.0 844.9h.01M607.0 846.2h.01M614.5 849.0h.01M614.5 839.6h.01M614.5 845.4h.01M614.5 843.2h.01M614.5 843.8h.01M614.5 846.3h.01M614.5 846.0h.01M614.5 842.9h.01M614.5 843.7h.01M622.0 846.5h.01M622.0 840.2h.01M622.0 843.2h.01M622.0 840.2h.01M622.0 844.1h.01M622.0 844.5h.01M622.0 840.7h.01M622.0 843.5h.01M629.4 846.6h.01M629.4 837.0h.01M629.4 840.7h.01M629.4 841.7h.01M629.4 841.1h.01M629.4 843.7h.01M629.4 838.6h.01M629.4 841.0h.01M629.4 841.8h.01M636.9 846.7h.01M636.9 838.8h.01M636.9 845.7h.01M636.9 844.9h.01M636.9 842.1h.01M636.9 842.5h.01M636.9 841.2h.01M636.9 844.0h.01M636.9 842.9h.01M644.3 845.4h.01M644.3 837.4h.01M644.3 839.3h.01M644.3 840.3h.01M644.3 843.0h.01M644.3 841.0h.01M644.3 843.5h.01M644.3 845.2h.01M644.3 841.1h.01M651.8 847.3h.01M651.8 835.7h.01M651.8 845.1h.01M651.8 844.1h.01M651.8 841.5h.01M651.8 841.3h.01M651.8 840.3h.01M651.8 845.3h.01M651.8 842.2h.01M659.3 845.7h.01M659.3 837.3h.01M659.3 838.1h.01M659.3 842.1h.01M659.3 844.6h.01M659.3 838.7h.01M659.3 843.8h.01M659.3 844.0h.01M659.3 840.0h.01M666.7 846.4h.01M666.7 834.7h.01M666.7 845.0h.01M666.7 840.3h.01M666.7 846.4h.01M666.7 844.9h.01M666.7 837.6h.01M666.7 838.8h.01M666.7 837.1h.01M666.7 839.5h.01M674.2 846.5h.01M674.2 834.7h.01M674.2 838.7h.01M674.2 836.7h.01M674.2 843.7h.01M674.2 837.7h.01M674.2 840.6h.01M674.2 841.2h.01M674.2 846.5h.01M674.2 841.2h.01M681.7 844.5h.01M681.7 836.1h.01M681.7 841.8h.01M681.7 843.8h.01M681.7 838.2h.01M681.7 840.3h.01M681.7 840.3h.01M681.7 838.3h.01M681.7 841.9h.01M681.7 836.1h.01M689.1 843.4h.01M689.1 834.4h.01M689.1 838.1h.01M689.1 841.1h.01M689.1 841.0h.01M689.1 837.1h.01M689.1 838.3h.01M689.1 838.0h.01M689.1 837.0h.01M689.1 840.3h.01M696.6 842.8h.01M696.6 835.4h.01M696.6 840.8h.01M696.6 837.7h.01M696.6 838.6h.01M696.6 835.4h.01M696.6 839.4h.01M696.6 836.2h.01M696.6 837.9h.01M696.6 836.2h.01M704.1 843.7h.01M704.1 833.4h.01M704.1 841.8h.01M704.1 835.9h.01M704.1 837.5h.01M704.1 836.6h.01M704.1 839.2h.01M704.1 836.5h.01M704.1 839.5h.01M704.1 838.7h.01M704.1 835.4h.01M711.5 840.6h.01M711.5 834.5h.01M711.5 838.1h.01M711.5 837.4h.01M711.5 837.1h.01M711.5 837.7h.01M711.5 837.6h.01M711.5 838.9h.01M711.5 836.6h.01M711.5 839.1h.01M719.0 842.0h.01M719.0 832.0h.01M719.0 832.3h.01M719.0 836.1h.01M719.0 838.3h.01M719.0 835.1h.01M719.0 833.1h.01M719.0 836.7h.01M719.0 838.0h.01M719.0 841.1h.01M719.0 841.2h.01M726.5 841.0h.01M726.5 830.2h.01M726.5 836.4h.01M726.5 834.9h.01M726.5 839.1h.01M726.5 834.0h.01M726.5 834.0h.01M726.5 835.4h.01M726.5 837.2h.01M726.5 836.6h.01M726.5 840.8h.01M733.9 839.8h.01M733.9 830.6h.01M733.9 835.2h.01M733.9 834.0h.01M733.9 834.3h.01M733.9 833.7h.01M733.9 832.5h.01M733.9 836.4h.01M733.9 834.7h.01M733.9 834.6h.01M733.9 838.5h.01M741.4 839.9h.01M741.4 829.3h.01M741.4 833.9h.01M741.4 836.8h.01M741.4 832.5h.01M741.4 832.1h.01M741.4 834.2h.01M741.4 839.9h.01M741.4 831.0h.01M741.4 835.1h.01M741.4 836.4h.01M748.9 839.6h.01M748.9 826.6h.01M748.9 831.2h.01M748.9 836.8h.01M748.9 832.5h.01M748.9 835.1h.01M748.9 834.0h.01M748.9 834.4h.01M748.9 832.2h.01M748.9 829.9h.01M748.9 833.2h.01M756.3 838.5h.01M756.3 828.7h.01M756.3 831.7h.01M756.3 834.4h.01M756.3 834.1h.01M756.3 831.2h.01M756.3 834.2h.01M756.3 835.1h.01M756.3 830.5h.01M756.3 831.0h.01M756.3 832.6h.01M756.3 828.7h.01M763.8 835.9h.01M763.8 827.9h.01M763.8 834.1h.01M763.8 831.1h.01M763.8 833.0h.01M763.8 833.1h.01M763.8 831.8h.01M763.8 833.5h.01M763.8 835.7h.01M763.8 833.3h.01M763.8 830.5h.01M763.8 831.4h.01M771.2 838.1h.01M771.2 826.8h.01M771.2 832.6h.01M771.2 834.6h.01M771.2 831.2h.01M771.2 827.9h.01M771.2 828.5h.01M771.2 829.8h.01M771.2 834.7h.01M771.2 830.8h.01M771.2 830.5h.01M771.2 829.0h.01M778.7 836.2h.01M778.7 825.1h.01M778.7 830.3h.01M778.7 832.3h.01M778.7 829.3h.01M778.7 831.5h.01M778.7 827.6h.01M778.7 832.0h.01M778.7 830.1h.01M778.7 836.2h.01M778.7 830.1h.01M778.7 832.5h.01M786.2 834.7h.01M786.2 822.7h.01M786.2 830.3h.01M786.2 833.0h.01M786.2 828.0h.01M786.2 827.0h.01M786.2 830.9h.01M786.2 832.6h.01M786.2 826.4h.01M786.2 825.5h.01M786.2 826.5h.01M786.2 828.4h.01M793.6 834.7h.01M793.6 821.1h.01M793.6 831.0h.01M793.6 831.5h.01M793.6 825.8h.01M793.6 825.4h.01M793.6 830.0h.01M793.6 830.5h.01M793.6 824.6h.01M793.6 829.0h.01M793.6 825.1h.01M793.6 831.6h.01M801.1 834.6h.01M801.1 820.4h.01M801.1 828.9h.01M801.1 833.4h.01M801.1 826.9h.01M801.1 829.4h.01M801.1 828.3h.01M801.1 822.6h.01M801.1 824.1h.01M801.1 825.8h.01M801.1 828.7h.01M801.1 831.7h.01M801.1 829.8h.01M808.6 834.0h.01M808.6 819.2h.01M808.6 828.6h.01M808.6 826.7h.01M808.6 825.2h.01M808.6 822.6h.01M808.6 821.7h.01M808.6 827.2h.01M808.6 819.5h.01M808.6 824.1h.01M808.6 829.5h.01M808.6 830.2h.01M808.6 828.2h.01M816.0 834.4h.01M816.0 818.9h.01M816.0 828.9h.01M816.0 830.0h.01M816.0 825.6h.01M816.0 832.3h.01M816.0 824.5h.01M816.0 829.7h.01M816.0 827.5h.01M816.0 825.0h.01M816.0 825.5h.01M816.0 818.9h.01M816.0 830.2h.01M823.5 831.6h.01M823.5 817.8h.01M823.5 828.4h.01M823.5 821.2h.01M823.5 825.5h.01M823.5 822.1h.01M823.5 830.0h.01M823.5 821.1h.01M823.5 820.7h.01M823.5 827.9h.01M823.5 820.2h.01M823.5 817.8h.01M823.5 824.7h.01M823.5 827.9h.01M831.0 832.3h.01M831.0 818.5h.01M831.0 819.1h.01M831.0 826.9h.01M831.0 826.2h.01M831.0 830.2h.01M831.0 827.2h.01M831.0 823.8h.01M831.0 832.3h.01M831.0 823.0h.01M831.0 822.3h.01M831.0 821.2h.01M831.0 827.4h.01M831.0 830.8h.01M838.4 832.0h.01M838.4 815.8h.01M838.4 827.0h.01M838.4 829.6h.01M838.4 816.1h.01M838.4 820.9h.01M838.4 820.4h.01M838.4 828.4h.01M838.4 818.4h.01M838.4 825.5h.01M838.4 820.5h.01M838.4 828.1h.01M838.4 821.4h.01M838.4 830.7h.01M845.9 829.2h.01M845.9 813.6h.01M845.9 821.3h.01M845.9 823.6h.01M845.9 822.9h.01M845.9 818.5h.01M845.9 816.4h.01M845.9 822.2h.01M845.9 816.4h.01M845.9 817.5h.01M845.9 818.5h.01M845.9 815.2h.01M845.9 827.2h.01M845.9 816.2h.01M853.4 829.0h.01M853.4 812.2h.01M853.4 821.3h.01M853.4 816.3h.01M853.4 815.5h.01M853.4 817.6h.01M853.4 825.5h.01M853.4 826.7h.01M853.4 820.4h.01M853.4 817.9h.01M853.4 823.5h.01M853.4 816.9h.01M853.4 818.0h.01M853.4 818.5h.01M860.8 829.0h.01M860.8 815.9h.01M860.8 818.4h.01M860.8 819.2h.01M860.8 818.0h.01M860.8 821.2h.01M860.8 826.5h.01M860.8 821.2h.01M860.8 819.6h.01M860.8 822.8h.01M860.8 826.1h.01M860.8 820.6h.01M860.8 820.3h.01M860.8 826.5h.01M868.3 830.1h.01M868.3 812.5h.01M868.3 820.5h.01M868.3 813.6h.01M868.3 825.3h.01M868.3 815.4h.01M868.3 822.2h.01M868.3 820.1h.01M868.3 826.7h.01M868.3 821.2h.01M868.3 823.6h.01M868.3 821.8h.01M868.3 820.5h.01M868.3 819.1h.01M875.8 828.7h.01M875.8 809.5h.01M875.8 814.2h.01M875.8 818.7h.01M875.8 822.0h.01M875.8 812.6h.01M875.8 817.7h.01M875.8 815.6h.01M875.8 827.2h.01M875.8 822.1h.01M875.8 809.5h.01M875.8 816.7h.01M875.8 816.8h.01M875.8 822.5h.01M883.2 826.6h.01M883.2 808.1h.01M883.2 817.8h.01M883.2 825.4h.01M883.2 821.0h.01M883.2 819.4h.01M883.2 814.8h.01M883.2 815.0h.01M883.2 817.4h.01M883.2 820.7h.01M883.2 820.7h.01M883.2 816.2h.01M883.2 823.6h.01M883.2 818.4h.01M883.2 818.8h.01M890.7 827.6h.01M890.7 812.2h.01M890.7 816.6h.01M890.7 813.8h.01M890.7 818.0h.01M890.7 819.9h.01M890.7 824.8h.01M890.7 813.7h.01M890.7 824.2h.01M890.7 827.6h.01M890.7 815.9h.01M890.7 825.6h.01M890.7 824.6h.01M890.7 822.7h.01M890.7 824.6h.01M898.2 825.4h.01M898.2 810.6h.01M898.2 815.4h.01M898.2 818.3h.01M898.2 819.6h.01M898.2 820.1h.01M898.2 813.7h.01M898.2 815.1h.01M898.2 819.8h.01M898.2 817.1h.01M898.2 822.5h.01M898.2 816.4h.01M898.2 822.2h.01M898.2 818.8h.01M905.6 824.1h.01M905.6 808.8h.01M905.6 816.8h.01M905.6 819.7h.01M905.6 819.4h.01M905.6 817.1h.01M905.6 817.4h.01M905.6 815.0h.01M905.6 816.2h.01M905.6 814.4h.01M905.6 815.8h.01M905.6 822.0h.01M905.6 822.0h.01M905.6 814.9h.01M905.6 815.2h.01M913.1 825.0h.01M913.1 809.2h.01M913.1 820.5h.01M913.1 814.8h.01M913.1 820.5h.01M913.1 822.7h.01M913.1 820.5h.01M913.1 816.1h.01M913.1 811.2h.01M913.1 819.3h.01M913.1 812.9h.01M913.1 819.1h.01M913.1 819.0h.01M913.1 820.6h.01M913.1 814.2h.01M920.5 822.5h.01M920.5 805.8h.01M920.5 807.1h.01M920.5 813.4h.01M920.5 814.1h.01M920.5 819.2h.01M920.5 809.0h.01M920.5 813.0h.01M920.5 813.9h.01M920.5 814.2h.01M920.5 816.3h.01M920.5 816.4h.01M920.5 812.8h.01M920.5 817.5h.01M920.5 814.8h.01M928.0 824.3h.01M928.0 802.3h.01M928.0 808.5h.01M928.0 818.6h.01M928.0 805.7h.01M928.0 813.3h.01M928.0 819.7h.01M928.0 814.1h.01M928.0 817.1h.01M928.0 809.6h.01M928.0 815.8h.01M928.0 809.4h.01M928.0 823.8h.01M928.0 815.7h.01M928.0 810.2h.01M935.5 825.2h.01M935.5 804.7h.01M935.5 811.0h.01M935.5 815.0h.01M935.5 813.9h.01M935.5 810.4h.01M935.5 814.1h.01M935.5 825.2h.01M935.5 823.0h.01M935.5 818.3h.01M935.5 811.5h.01M935.5 814.7h.01M935.5 811.7h.01M935.5 809.9h.01M935.5 812.2h.01M942.9 823.2h.01M942.9 804.9h.01M942.9 819.9h.01M942.9 816.1h.01M942.9 823.2h.01M942.9 806.6h.01M942.9 804.9h.01M942.9 815.0h.01M942.9 816.0h.01M942.9 823.2h.01M942.9 811.9h.01M942.9 817.5h.01M942.9 819.8h.01M942.9 820.6h.01M942.9 814.9h.01M950.4 818.3h.01M950.4 804.7h.01M950.4 817.6h.01M950.4 807.0h.01M950.4 809.1h.01M950.4 813.8h.01M950.4 816.4h.01M950.4 815.2h.01M950.4 809.5h.01M950.4 810.1h.01M950.4 810.9h.01M950.4 807.8h.01M950.4 813.7h.01M950.4 807.0h.01M950.4 811.2h.01M957.9 818.4h.01M957.9 798.5h.01M957.9 812.3h.01M957.9 800.0h.01M957.9 817.0h.01M957.9 807.5h.01M957.9 806.8h.01M957.9 812.3h.01M957.9 808.5h.01M957.9 802.3h.01M957.9 814.3h.01M957.9 814.1h.01M957.9 810.4h.01M957.9 806.2h.01M957.9 803.2h.01M957.9 805.9h.01M965.3 815.7h.01M965.3 798.5h.01M965.3 803.0h.01M965.3 814.5h.01M965.3 814.7h.01M965.3 810.4h.01M965.3 809.4h.01M965.3 807.6h.01M965.3 812.2h.01M965.3 812.1h.01M965.3 805.7h.01M965.3 815.7h.01M965.3 812.6h.01M965.3 807.5h.01M965.3 804.4h.01M965.3 806.4h.01M972.8 815.2h.01M972.8 797.0h.01M972.8 803.0h.01M972.8 806.5h.01M972.8 812.6h.01M972.8 808.0h.01M972.8 807.6h.01M972.8 810.6h.01M972.8 803.7h.01M972.8 809.1h.01M972.8 813.5h.01M972.8 806.8h.01M972.8 811.3h.01M972.8 804.4h.01M972.8 815.2h.01M972.8 814.5h.01M980.3 815.0h.01M980.3 798.4h.01M980.3 805.9h.01M980.3 807.0h.01M980.3 801.1h.01M980.3 808.3h.01M980.3 809.4h.01M980.3 803.9h.01M980.3 808.6h.01M980.3 805.7h.01M980.3 802.1h.01M980.3 807.9h.01M980.3 807.7h.01M980.3 809.8h.01M980.3 805.6h.01M980.3 804.7h.01M987.7 818.1h.01M987.7 798.2h.01M987.7 808.0h.01M987.7 808.1h.01M987.7 810.1h.01M987.7 802.4h.01M987.7 808.2h.01M987.7 810.0h.01M987.7 815.0h.01M987.7 809.2h.01M987.7 804.4h.01M987.7 818.1h.01M987.7 814.0h.01M987.7 813.0h.01M987.7 812.6h.01M987.7 808.3h.01M995.2 812.7h.01M995.2 793.4h.01M995.2 796.9h.01M995.2 804.6h.01M995.2 801.7h.01M995.2 804.4h.01M995.2 802.6h.01M995.2 805.0h.01M995.2 808.8h.01M995.2 801.4h.01M995.2 798.1h.01M995.2 807.8h.01M995.2 803.4h.01M995.2 803.4h.01M995.2 812.7h.01M995.2 794.0h.01M1002.7 815.6h.01M1002.7 790.9h.01M1002.7 808.8h.01M1002.7 815.6h.01M1002.7 804.0h.01M1002.7 803.1h.01M1002.7 805.3h.01M1002.7 806.3h.01M1002.7 797.6h.01M1002.7 798.9h.01M1002.7 803.7h.01M1002.7 806.7h.01M1002.7 790.9h.01M1002.7 798.6h.01M1002.7 803.0h.01M1010.1 814.4h.01M1010.1 791.6h.01M1010.1 804.8h.01M1010.1 801.7h.01M1010.1 804.3h.01M1010.1 803.4h.01M1010.1 802.0h.01M1010.1 798.6h.01M1010.1 813.3h.01M1010.1 810.4h.01M1010.1 798.3h.01M1010.1 801.8h.01M1010.1 800.5h.01M1010.1 809.0h.01M1010.1 794.8h.01M1017.6 808.0h.01M1017.6 790.9h.01M1017.6 798.9h.01M1017.6 799.0h.01M1017.6 800.1h.01M1017.6 792.8h.01M1017.6 794.6h.01M1017.6 799.7h.01M1017.6 802.1h.01M1017.6 801.5h.01M1017.6 798.1h.01M1017.6 808.0h.01M1017.6 798.3h.01M1017.6 800.5h.01M1017.6 790.9h.01M1025.1 810.1h.01M1025.1 789.8h.01M1025.1 803.1h.01M1025.1 803.5h.01M1025.1 800.3h.01M1025.1 810.0h.01M1025.1 799.9h.01M1025.1 808.4h.01M1025.1 803.5h.01M1025.1 803.6h.01M1025.1 796.4h.01M1025.1 792.0h.01M1025.1 792.7h.01M1025.1 802.3h.01M1025.1 801.1h.01M1032.5 806.8h.01M1032.5 786.8h.01M1032.5 793.4h.01M1032.5 796.8h.01M1032.5 787.1h.01M1032.5 792.2h.01M1032.5 787.6h.01M1032.5 797.0h.01M1032.5 793.8h.01M1032.5 795.0h.01M1032.5 795.8h.01M1032.5 801.9h.01M1032.5 795.4h.01M1032.5 803.9h.01M1032.5 794.7h.01M1040.0 809.3h.01M1040.0 782.7h.01M1040.0 797.7h.01M1040.0 790.7h.01M1040.0 802.6h.01M1040.0 803.7h.01M1040.0 804.3h.01M1040.0 793.2h.01M1040.0 804.5h.01M1040.0 791.9h.01M1040.0 789.1h.01M1040.0 791.3h.01M1040.0 796.5h.01M1040.0 793.0h.01M1047.5 805.3h.01M1047.5 784.7h.01M1047.5 787.4h.01M1047.5 803.0h.01M1047.5 795.3h.01M1047.5 796.6h.01M1047.5 790.2h.01M1047.5 793.5h.01M1047.5 795.4h.01M1047.5 798.2h.01M1047.5 794.1h.01M1047.5 795.7h.01M1047.5 794.6h.01M1047.5 795.7h.01M1054.9 802.9h.01M1054.9 781.1h.01M1054.9 790.8h.01M1054.9 790.5h.01M1054.9 785.4h.01M1054.9 786.1h.01M1054.9 783.0h.01M1054.9 788.2h.01M1054.9 787.4h.01M1054.9 791.6h.01M1054.9 797.5h.01M1054.9 798.2h.01M1054.9 789.1h.01M1054.9 791.2h.01M1062.4 806.0h.01M1062.4 780.4h.01M1062.4 792.5h.01M1062.4 795.6h.01M1062.4 795.0h.01M1062.4 804.7h.01M1062.4 794.1h.01M1062.4 785.4h.01M1062.4 800.7h.01M1062.4 790.0h.01M1062.4 798.1h.01M1062.4 792.4h.01M1062.4 784.4h.01M1062.4 793.1h.01M1069.8 802.9h.01M1069.8 775.4h.01M1069.8 780.9h.01M1069.8 802.9h.01M1069.8 791.6h.01M1069.8 802.5h.01M1069.8 799.8h.01M1069.8 789.5h.01M1069.8 797.7h.01M1069.8 792.2h.01M1069.8 780.2h.01M1069.8 785.7h.01M1069.8 775.4h.01M1077.3 801.1h.01M1077.3 774.6h.01M1077.3 787.6h.01M1077.3 801.1h.01M1077.3 788.2h.01M1077.3 791.1h.01M1077.3 784.9h.01M1077.3 787.8h.01M1077.3 792.3h.01M1077.3 801.0h.01M1077.3 783.0h.01M1077.3 792.7h.01M1077.3 799.5h.01M1084.8 799.9h.01M1084.8 773.2h.01M1084.8 799.9h.01M1084.8 788.9h.01M1084.8 798.2h.01M1084.8 773.2h.01M1084.8 779.5h.01M1084.8 783.9h.01M1084.8 784.7h.01M1084.8 782.7h.01M1084.8 781.4h.01M1084.8 785.2h.01M1084.8 794.4h.01M1092.2 795.1h.01M1092.2 774.0h.01M1092.2 782.8h.01M1092.2 790.7h.01M1092.2 782.6h.01M1092.2 787.5h.01M1092.2 774.0h.01M1092.2 787.0h.01M1092.2 782.3h.01M1092.2 781.7h.01M1092.2 784.2h.01M1092.2 783.2h.01M1099.7 799.9h.01M1099.7 773.1h.01M1099.7 781.3h.01M1099.7 778.3h.01M1099.7 786.9h.01M1099.7 777.2h.01M1099.7 786.7h.01M1099.7 793.0h.01M1099.7 789.5h.01M1099.7 791.0h.01M1099.7 788.1h.01M1099.7 786.1h.01M1107.2 798.1h.01M1107.2 772.2h.01M1107.2 787.9h.01M1107.2 781.6h.01M1107.2 785.6h.01M1107.2 780.1h.01M1107.2 777.1h.01M1107.2 785.9h.01M1107.2 780.2h.01M1107.2 776.2h.01M1107.2 782.7h.01M1107.2 792.2h.01M1114.6 795.1h.01M1114.6 772.2h.01M1114.6 782.4h.01M1114.6 781.8h.01M1114.6 773.4h.01M1114.6 779.3h.01M1114.6 782.8h.01M1114.6 793.9h.01M1114.6 786.6h.01M1114.6 787.6h.01M1114.6 784.7h.01M1114.6 790.7h.01M1122.1 793.0h.01M1122.1 770.5h.01M1122.1 790.0h.01M1122.1 781.2h.01M1122.1 783.1h.01M1122.1 776.2h.01M1122.1 782.1h.01M1122.1 786.0h.01M1122.1 789.6h.01M1122.1 781.7h.01M1122.1 793.0h.01M1129.6 786.7h.01M1129.6 763.8h.01M1129.6 776.2h.01M1129.6 775.6h.01M1129.6 776.7h.01M1129.6 783.3h.01M1129.6 777.5h.01M1129.6 772.7h.01M1129.6 772.3h.01M1129.6 781.3h.01M1137.0 793.7h.01M1137.0 761.6h.01M1137.0 765.6h.01M1137.0 777.6h.01M1137.0 790.8h.01M1137.0 777.8h.01M1137.0 776.5h.01M1137.0 772.4h.01M1137.0 773.7h.01M1137.0 765.6h.01M1137.0 772.9h.01M1144.5 787.5h.01M1144.5 766.8h.01M1144.5 770.4h.01M1144.5 767.3h.01M1144.5 775.3h.01M1144.5 776.1h.01M1144.5 778.2h.01M1144.5 775.9h.01M1144.5 776.8h.01M1144.5 779.7h.01M1152.0 783.9h.01M1152.0 760.8h.01M1152.0 771.3h.01M1152.0 768.5h.01M1152.0 773.2h.01M1152.0 777.8h.01M1152.0 772.9h.01M1152.0 778.2h.01M1152.0 774.4h.01M1159.4 785.5h.01M1159.4 762.7h.01M1159.4 780.9h.01M1159.4 767.1h.01M1159.4 775.3h.01M1159.4 781.9h.01M1159.4 770.6h.01M1159.4 762.7h.01M1159.4 773.9h.01M1166.9 782.9h.01M1166.9 758.6h.01M1166.9 769.5h.01M1166.9 769.7h.01M1166.9 774.8h.01M1166.9 774.3h.01M1166.9 774.5h.01M1166.9 775.5h.01M1166.9 774.1h.01M1174.4 777.3h.01M1174.4 760.7h.01M1174.4 766.9h.01M1174.4 761.8h.01M1174.4 768.3h.01M1174.4 770.9h.01M1174.4 772.8h.01M1174.4 771.1h.01M1181.8 776.6h.01M1181.8 760.9h.01M1181.8 765.8h.01M1181.8 767.7h.01M1181.8 765.6h.01M1181.8 762.8h.01M1181.8 764.9h.01M1181.8 760.9h.01M1189.3 774.2h.01M1189.3 760.9h.01M1189.3 764.8h.01M1189.3 767.0h.01M1189.3 764.9h.01M1189.3 765.4h.01M1189.3 762.9h.01M1189.3 767.7h.01M1196.8 774.1h.01M1196.8 759.2h.01M1196.8 774.1h.01M1196.8 770.3h.01M1196.8 768.4h.01M1196.8 769.1h.01M1196.8 762.1h.01M1204.2 770.2h.01M1204.2 755.3h.01M1204.2 768.4h.01M1204.2 759.8h.01M1204.2 763.1h.01M1204.2 770.2h.01M1204.2 759.0h.01M1211.7 768.1h.01M1211.7 755.0h.01M1211.7 760.3h.01M1211.7 758.5h.01M1211.7 755.0h.01M1211.7 760.5h.01M1211.7 762.0h.01M1219.2 770.4h.01M1219.2 754.9h.01M1219.2 760.7h.01M1219.2 764.0h.01M1219.2 763.4h.01M1219.2 768.2h.01M1219.2 755.1h.01M1226.6 769.1h.01M1226.6 754.1h.01M1226.6 762.2h.01M1226.6 761.9h.01M1226.6 758.6h.01M1226.6 760.1h.01M1234.1 766.5h.01M1234.1 756.5h.01M1234.1 763.9h.01M1234.1 762.5h.01M1234.1 759.1h.01M1234.1 761.4h.01M1241.5 766.9h.01M1241.5 753.2h.01M1241.5 762.7h.01M1241.5 762.8h.01M1241.5 757.3h.01M1249.0 764.5h.01M1249.0 754.4h.01M1249.0 754.7h.01M241.2 856.2h.01M248.7 856.2h.01M301.0 856.2h.01M360.7 605.8h.01M345.7 612.8h.01M330.8 657.0h.01M987.7 835.8h.01M1025.1 823.0h.01M1375.9 705.0h.01M1323.7 715.0h.01M1308.7 719.5h.01M1286.3 725.0h.01M1271.4 727.5h.01M1323.7 725.8h.01M1331.1 724.5h.01M1316.2 733.0h.01M1338.6 733.8h.01M1256.5 733.0h.01M1256.5 737.0h.01M1278.9 738.8h.01M1293.8 740.5h.01M1308.7 740.0h.01M1263.9 748.0h.01M1271.4 748.0h.01M1263.9 752.5h.01M1278.9 754.2h.01M1293.8 752.5h.01M1293.8 755.0h.01M1308.7 754.5h.01M1323.7 754.5h.01M987.7 835.8h.01M1025.1 823.0h.01M1069.8 823.0h.01M1062.4 810.8h.01M1159.4 793.8h.01M1166.9 788.8h.01M1144.5 791.2h.01M1174.4 748.0h.01M1219.2 747.0h.01M1226.6 745.0h.01M1241.5 747.0h.01M1152.0 758.0h.01M1107.2 768.0h.01M1069.8 773.8h.01M1062.4 775.5h.01M1040.0 780.0h.01M1077.3 773.8h.01M1465.5 709.0h.01M293.5 765.1h.01"/>
<path class="p s" d="M659.3 830.5h.01M569.7 846.2h.01M569.7 845.8h.01M659.3 830.8h.01"/>
<path class="p t" d="M629.4 806.2h.01"/>
</g>
<text class="ti" text-anchor="middle" x="816" y="940">length_1_mm</text>
<text class="ti" style="font-size:29px" text-anchor="middle" transform="translate(37.5 467.5) rotate(-90)">weight_g</text>
<text class="ti" x="1574" y="425.8" textLength="99.3" lengthAdjust="spacing">species</text>
<rect x="1574" y="442" width="46" height="92" fill="#F2F2F2"/>
<circle cx="1597" cy="465" r="5" fill="#F8766D"/><circle cx="1597" cy="511" r="5" fill="#00BFC4"/>
<text class="lg" x="1633.6" y="474.4" textLength="257" lengthAdjust="spacing">Coastal giant salamander</text>
<text class="lg" x="1633.6" y="520.2" textLength="145.2" lengthAdjust="spacing">Cutthroat trout</text>
</svg></body></html>
